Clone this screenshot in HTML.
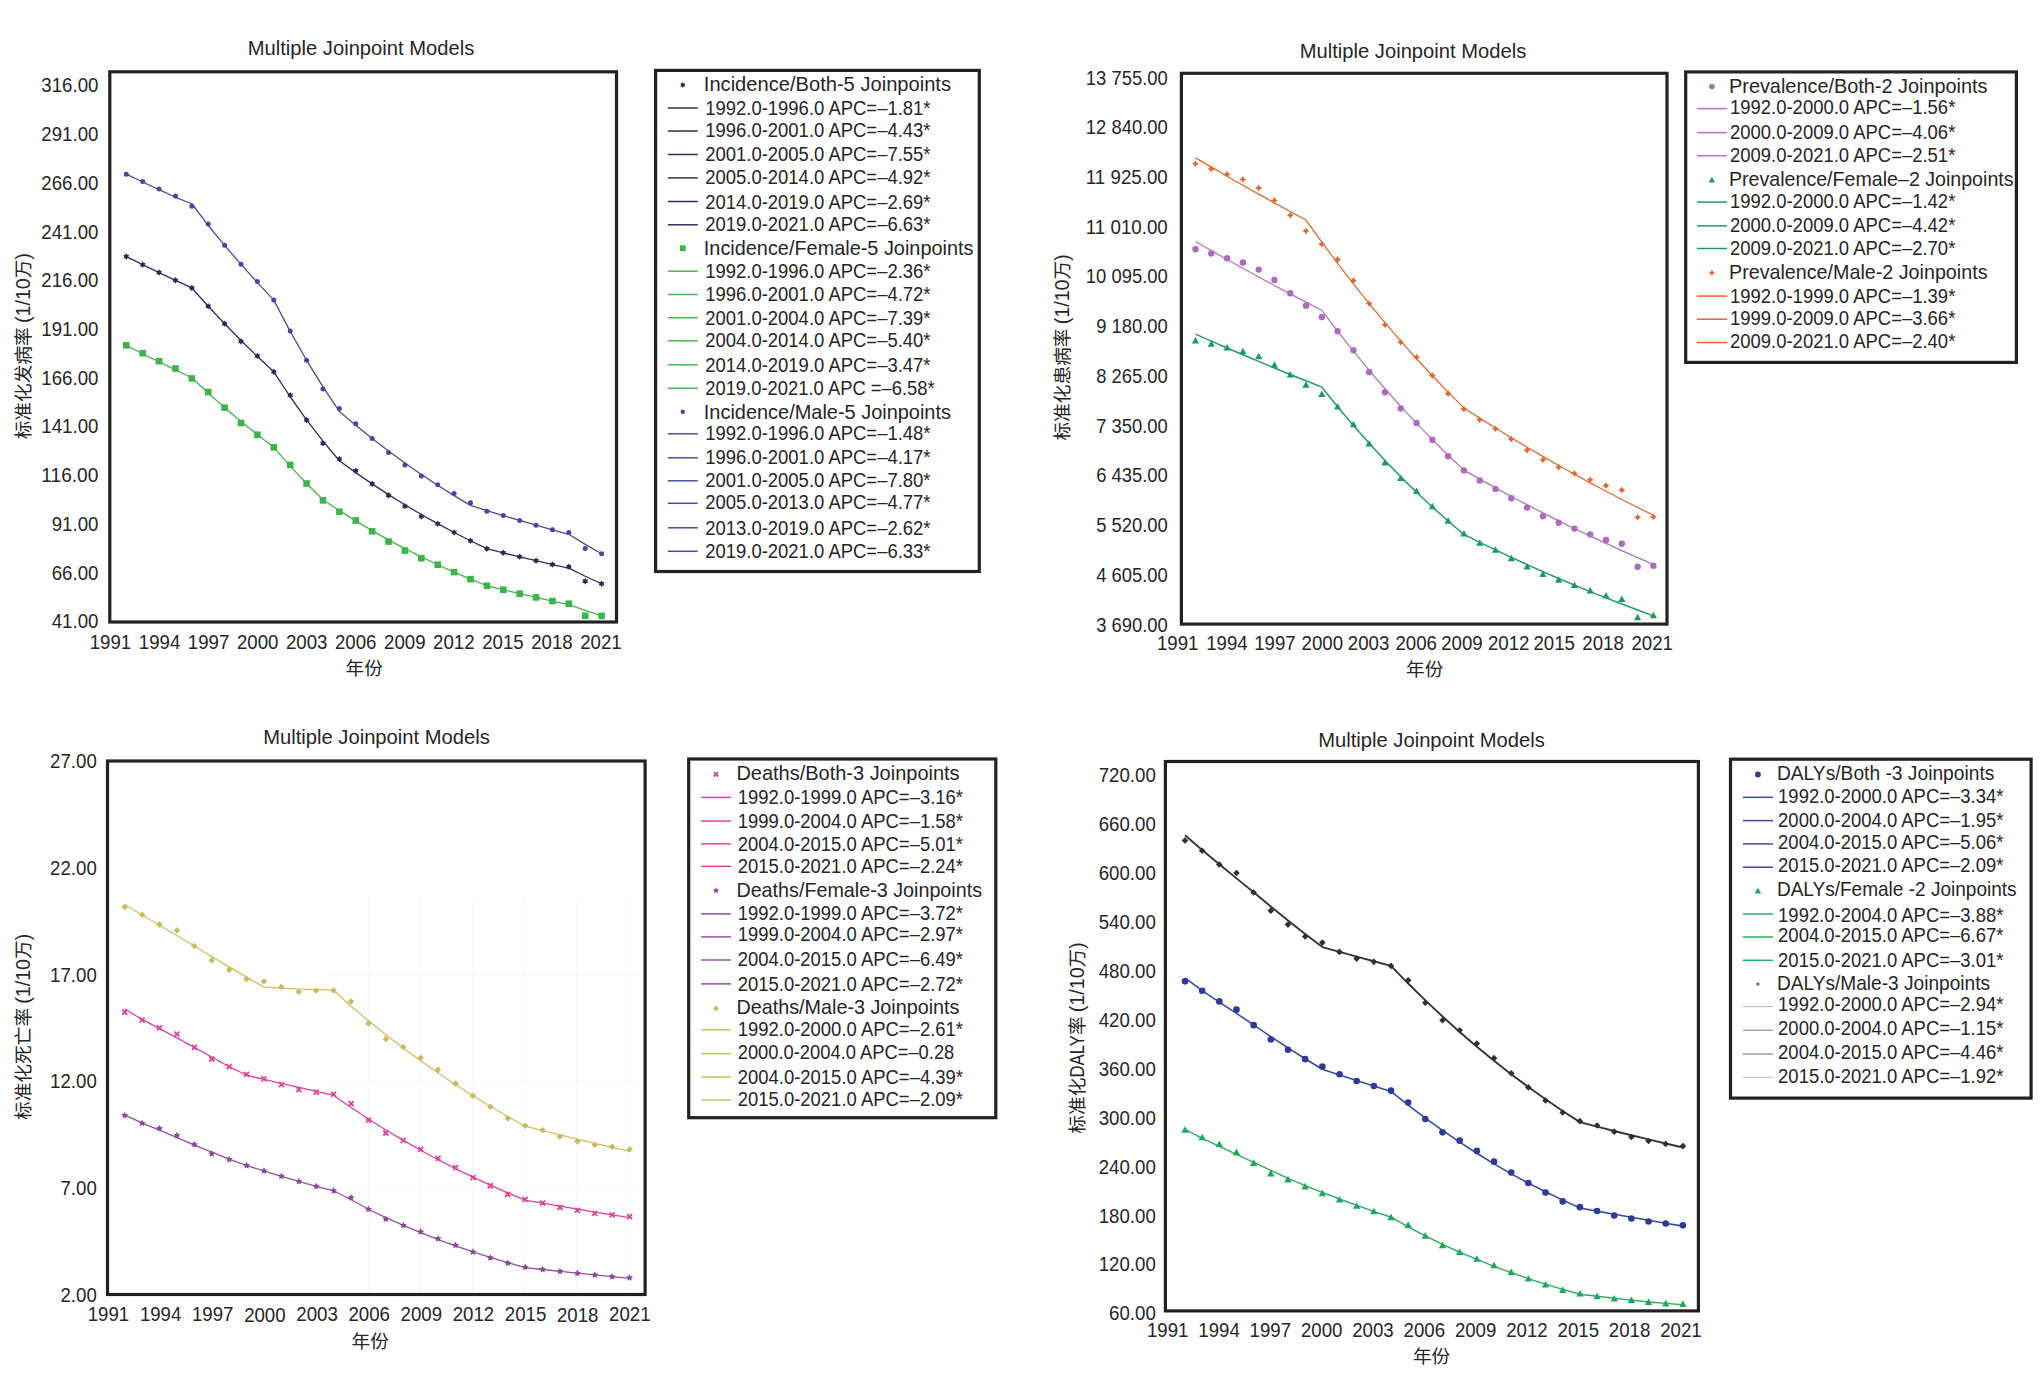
<!DOCTYPE html>
<html lang="zh">
<head>
<meta charset="utf-8">
<title>Multiple Joinpoint Models</title>
<style>
html,body{margin:0;padding:0;background:#fff;}
body{width:2044px;height:1387px;overflow:hidden;}
svg{display:block;}
text{white-space:pre;}
</style>
</head>
<body>
<svg width="2044" height="1387" viewBox="0 0 2044 1387" font-family='"Liberation Sans", "Noto Sans CJK SC", sans-serif' font-size="20.3" fill="#262626">
<rect width="2044" height="1387" fill="#ffffff"/>
<g id="chart1">
<polyline points="126.29,174.2 142.68,182.01 159.07,189.7 175.46,197.28 191.85,203.75 208.24,225.47 224.63,245.33 241.02,264.36 257.41,282.6 273.8,300.08 290.19,331.41 306.58,360.29 322.97,386.93 339.36,411.48 355.75,425.33 372.14,438.51 388.53,451.07 404.92,463.02 421.31,474.41 437.7,485.25 454.09,495.58 470.48,505.41 486.87,510.56 503.26,515.56 519.65,520.44 536.04,525.19 552.43,529.82 568.82,534.32 585.21,544.42 601.6,553.74" fill="none" stroke="#4a4d9e" stroke-width="1.3" stroke-linejoin="round"/>
<circle cx="126.29" cy="174.2" r="2.5" fill="#4447a2"/><circle cx="142.68" cy="181.61" r="2.5" fill="#4447a2"/><circle cx="159.07" cy="188.9" r="2.5" fill="#4447a2"/><circle cx="175.46" cy="196.08" r="2.5" fill="#4447a2"/><circle cx="191.85" cy="206.15" r="2.5" fill="#4447a2"/><circle cx="208.24" cy="223.97" r="2.5" fill="#4447a2"/><circle cx="224.63" cy="245.33" r="2.5" fill="#4447a2"/><circle cx="241.02" cy="264.36" r="2.5" fill="#4447a2"/><circle cx="257.41" cy="281.4" r="2.5" fill="#4447a2"/><circle cx="273.8" cy="300.08" r="2.5" fill="#4447a2"/><circle cx="290.19" cy="331.01" r="2.5" fill="#4447a2"/><circle cx="306.58" cy="360.29" r="2.5" fill="#4447a2"/><circle cx="322.97" cy="388.93" r="2.5" fill="#4447a2"/><circle cx="339.36" cy="408.48" r="2.5" fill="#4447a2"/><circle cx="355.75" cy="423.63" r="2.5" fill="#4447a2"/><circle cx="372.14" cy="438.51" r="2.5" fill="#4447a2"/><circle cx="388.53" cy="452.47" r="2.5" fill="#4447a2"/><circle cx="404.92" cy="465.02" r="2.5" fill="#4447a2"/><circle cx="421.31" cy="476.11" r="2.5" fill="#4447a2"/><circle cx="437.7" cy="484.75" r="2.5" fill="#4447a2"/><circle cx="454.09" cy="493.58" r="2.5" fill="#4447a2"/><circle cx="470.48" cy="502.81" r="2.5" fill="#4447a2"/><circle cx="486.87" cy="511.26" r="2.5" fill="#4447a2"/><circle cx="503.26" cy="515.56" r="2.5" fill="#4447a2"/><circle cx="519.65" cy="520.44" r="2.5" fill="#4447a2"/><circle cx="536.04" cy="525.19" r="2.5" fill="#4447a2"/><circle cx="552.43" cy="529.82" r="2.5" fill="#4447a2"/><circle cx="568.82" cy="532.62" r="2.5" fill="#4447a2"/><circle cx="585.21" cy="548.62" r="2.5" fill="#4447a2"/><circle cx="601.6" cy="553.74" r="2.5" fill="#4447a2"/>
<polyline points="126.29,256.6 142.68,264.65 159.07,272.57 175.46,280.33 191.85,287.96 208.24,306.29 224.63,323.81 241.02,340.55 257.41,356.55 273.8,371.84 290.19,396.75 306.58,419.78 322.97,441.06 339.36,460.74 355.75,472.6 372.14,483.87 388.53,494.59 404.92,504.78 421.31,514.47 437.7,523.69 454.09,532.45 470.48,540.78 486.87,548.69 503.26,552.81 519.65,556.82 536.04,560.72 552.43,564.51 568.82,568.2 585.21,576.25 601.6,583.72" fill="none" stroke="#2f2f5f" stroke-width="1.3" stroke-linejoin="round"/>
<path d="M126.29 253.3L127.31 254.83L129.15 254.95L128.34 256.6L129.15 258.25L127.31 258.37L126.29 259.9L125.27 258.37L123.43 258.25L124.24 256.6L123.43 254.95L125.27 254.83Z" fill="#2b2b5a"/><path d="M142.68 261.35L143.7 262.88L145.54 263L144.73 264.65L145.54 266.3L143.7 266.43L142.68 267.95L141.66 266.43L139.82 266.3L140.63 264.65L139.82 263L141.66 262.88Z" fill="#2b2b5a"/><path d="M159.07 269.27L160.09 270.79L161.93 270.92L161.12 272.57L161.93 274.22L160.09 274.34L159.07 275.87L158.05 274.34L156.21 274.22L157.02 272.57L156.21 270.92L158.05 270.79Z" fill="#2b2b5a"/><path d="M175.46 277.03L176.48 278.56L178.32 278.68L177.51 280.33L178.32 281.98L176.48 282.11L175.46 283.63L174.44 282.11L172.6 281.98L173.41 280.33L172.6 278.68L174.44 278.56Z" fill="#2b2b5a"/><path d="M191.85 284.66L192.87 286.19L194.71 286.31L193.9 287.96L194.71 289.61L192.87 289.73L191.85 291.26L190.83 289.73L188.99 289.61L189.8 287.96L188.99 286.31L190.83 286.19Z" fill="#2b2b5a"/><path d="M208.24 302.99L209.26 304.52L211.1 304.64L210.29 306.29L211.1 307.94L209.26 308.06L208.24 309.59L207.22 308.06L205.38 307.94L206.19 306.29L205.38 304.64L207.22 304.52Z" fill="#2b2b5a"/><path d="M224.63 320.51L225.65 322.04L227.49 322.16L226.68 323.81L227.49 325.46L225.65 325.58L224.63 327.11L223.61 325.58L221.77 325.46L222.58 323.81L221.77 322.16L223.61 322.04Z" fill="#2b2b5a"/><path d="M241.02 338.15L242.04 339.68L243.88 339.8L243.07 341.45L243.88 343.1L242.04 343.22L241.02 344.75L240 343.22L238.16 343.1L238.97 341.45L238.16 339.8L240 339.68Z" fill="#2b2b5a"/><path d="M257.41 352.75L258.43 354.28L260.27 354.4L259.46 356.05L260.27 357.7L258.43 357.82L257.41 359.35L256.39 357.82L254.55 357.7L255.36 356.05L254.55 354.4L256.39 354.28Z" fill="#2b2b5a"/><path d="M273.8 368.54L274.82 370.07L276.66 370.19L275.85 371.84L276.66 373.49L274.82 373.61L273.8 375.14L272.78 373.61L270.94 373.49L271.75 371.84L270.94 370.19L272.78 370.07Z" fill="#2b2b5a"/><path d="M290.19 391.95L291.21 393.48L293.05 393.6L292.24 395.25L293.05 396.9L291.21 397.02L290.19 398.55L289.17 397.02L287.33 396.9L288.14 395.25L287.33 393.6L289.17 393.48Z" fill="#2b2b5a"/><path d="M306.58 416.78L307.6 418.3L309.44 418.43L308.63 420.08L309.44 421.73L307.6 421.85L306.58 423.38L305.56 421.85L303.72 421.73L304.53 420.08L303.72 418.43L305.56 418.3Z" fill="#2b2b5a"/><path d="M322.97 439.96L323.99 441.49L325.83 441.61L325.02 443.26L325.83 444.91L323.99 445.04L322.97 446.56L321.95 445.04L320.11 444.91L320.92 443.26L320.11 441.61L321.95 441.49Z" fill="#2b2b5a"/><path d="M339.36 455.74L340.38 457.27L342.22 457.39L341.41 459.04L342.22 460.69L340.38 460.82L339.36 462.34L338.34 460.82L336.5 460.69L337.31 459.04L336.5 457.39L338.34 457.27Z" fill="#2b2b5a"/><path d="M355.75 467.4L356.77 468.93L358.61 469.05L357.8 470.7L358.61 472.35L356.77 472.47L355.75 474L354.73 472.47L352.89 472.35L353.7 470.7L352.89 469.05L354.73 468.93Z" fill="#2b2b5a"/><path d="M372.14 480.57L373.16 482.1L375 482.22L374.19 483.87L375 485.52L373.16 485.65L372.14 487.17L371.12 485.65L369.28 485.52L370.09 483.87L369.28 482.22L371.12 482.1Z" fill="#2b2b5a"/><path d="M388.53 492.09L389.55 493.62L391.39 493.74L390.58 495.39L391.39 497.04L389.55 497.16L388.53 498.69L387.51 497.16L385.67 497.04L386.48 495.39L385.67 493.74L387.51 493.62Z" fill="#2b2b5a"/><path d="M404.92 502.98L405.94 504.51L407.78 504.63L406.97 506.28L407.78 507.93L405.94 508.06L404.92 509.58L403.9 508.06L402.06 507.93L402.87 506.28L402.06 504.63L403.9 504.51Z" fill="#2b2b5a"/><path d="M421.31 513.17L422.33 514.7L424.17 514.82L423.36 516.47L424.17 518.12L422.33 518.25L421.31 519.77L420.29 518.25L418.45 518.12L419.26 516.47L418.45 514.82L420.29 514.7Z" fill="#2b2b5a"/><path d="M437.7 520.39L438.72 521.91L440.56 522.04L439.75 523.69L440.56 525.34L438.72 525.46L437.7 526.99L436.68 525.46L434.84 525.34L435.65 523.69L434.84 522.04L436.68 521.91Z" fill="#2b2b5a"/><path d="M454.09 529.15L455.11 530.67L456.95 530.8L456.14 532.45L456.95 534.1L455.11 534.22L454.09 535.75L453.07 534.22L451.23 534.1L452.04 532.45L451.23 530.8L453.07 530.67Z" fill="#2b2b5a"/><path d="M470.48 537.48L471.5 539L473.34 539.13L472.53 540.78L473.34 542.43L471.5 542.55L470.48 544.08L469.46 542.55L467.62 542.43L468.43 540.78L467.62 539.13L469.46 539Z" fill="#2b2b5a"/><path d="M486.87 545.39L487.89 546.92L489.73 547.04L488.92 548.69L489.73 550.34L487.89 550.47L486.87 551.99L485.85 550.47L484.01 550.34L484.82 548.69L484.01 547.04L485.85 546.92Z" fill="#2b2b5a"/><path d="M503.26 549.51L504.28 551.04L506.12 551.16L505.31 552.81L506.12 554.46L504.28 554.58L503.26 556.11L502.24 554.58L500.4 554.46L501.21 552.81L500.4 551.16L502.24 551.04Z" fill="#2b2b5a"/><path d="M519.65 553.52L520.67 555.05L522.51 555.17L521.7 556.82L522.51 558.47L520.67 558.59L519.65 560.12L518.63 558.59L516.79 558.47L517.6 556.82L516.79 555.17L518.63 555.05Z" fill="#2b2b5a"/><path d="M536.04 557.42L537.06 558.94L538.9 559.07L538.09 560.72L538.9 562.37L537.06 562.49L536.04 564.02L535.02 562.49L533.18 562.37L533.99 560.72L533.18 559.07L535.02 558.94Z" fill="#2b2b5a"/><path d="M552.43 561.21L553.45 562.74L555.29 562.86L554.48 564.51L555.29 566.16L553.45 566.28L552.43 567.81L551.41 566.28L549.57 566.16L550.38 564.51L549.57 562.86L551.41 562.74Z" fill="#2b2b5a"/><path d="M568.82 563.5L569.84 565.03L571.68 565.15L570.87 566.8L571.68 568.45L569.84 568.57L568.82 570.1L567.8 568.57L565.96 568.45L566.77 566.8L565.96 565.15L567.8 565.03Z" fill="#2b2b5a"/><path d="M585.21 577.95L586.23 579.48L588.07 579.6L587.26 581.25L588.07 582.9L586.23 583.03L585.21 584.55L584.19 583.03L582.35 582.9L583.16 581.25L582.35 579.6L584.19 579.48Z" fill="#2b2b5a"/><path d="M601.6 580.42L602.62 581.95L604.46 582.07L603.65 583.72L604.46 585.37L602.62 585.49L601.6 587.02L600.58 585.49L598.74 585.37L599.55 583.72L598.74 582.07L600.58 581.95Z" fill="#2b2b5a"/>
<polyline points="126.29,345.3 142.68,353.71 159.07,361.92 175.46,369.94 191.85,377.77 208.24,393.06 224.63,407.63 241.02,421.51 257.41,434.74 273.8,447.34 290.19,466.14 306.58,483.55 322.97,499.67 339.36,510.59 355.75,520.91 372.14,530.67 388.53,539.91 404.92,548.65 421.31,556.91 437.7,564.73 454.09,572.13 470.48,579.13 486.87,585.75 503.26,589.78 519.65,593.66 536.04,597.41 552.43,601.03 568.82,604.53 585.21,610.42 601.6,615.9" fill="none" stroke="#43b64e" stroke-width="1.3" stroke-linejoin="round"/>
<rect x="122.99" y="342" width="6.6" height="6.6" fill="#3cb449"/><rect x="139.38" y="349.91" width="6.6" height="6.6" fill="#3cb449"/><rect x="155.77" y="357.92" width="6.6" height="6.6" fill="#3cb449"/><rect x="172.16" y="365.24" width="6.6" height="6.6" fill="#3cb449"/><rect x="188.55" y="375.17" width="6.6" height="6.6" fill="#3cb449"/><rect x="204.94" y="388.76" width="6.6" height="6.6" fill="#3cb449"/><rect x="221.33" y="404.33" width="6.6" height="6.6" fill="#3cb449"/><rect x="237.72" y="419.71" width="6.6" height="6.6" fill="#3cb449"/><rect x="254.11" y="431.44" width="6.6" height="6.6" fill="#3cb449"/><rect x="270.5" y="444.04" width="6.6" height="6.6" fill="#3cb449"/><rect x="286.89" y="461.64" width="6.6" height="6.6" fill="#3cb449"/><rect x="303.28" y="480.25" width="6.6" height="6.6" fill="#3cb449"/><rect x="319.67" y="497.07" width="6.6" height="6.6" fill="#3cb449"/><rect x="336.06" y="508.39" width="6.6" height="6.6" fill="#3cb449"/><rect x="352.45" y="517.21" width="6.6" height="6.6" fill="#3cb449"/><rect x="368.84" y="528.07" width="6.6" height="6.6" fill="#3cb449"/><rect x="385.23" y="538.31" width="6.6" height="6.6" fill="#3cb449"/><rect x="401.62" y="547.25" width="6.6" height="6.6" fill="#3cb449"/><rect x="418.01" y="554.91" width="6.6" height="6.6" fill="#3cb449"/><rect x="434.4" y="561.43" width="6.6" height="6.6" fill="#3cb449"/><rect x="450.79" y="568.83" width="6.6" height="6.6" fill="#3cb449"/><rect x="467.18" y="575.83" width="6.6" height="6.6" fill="#3cb449"/><rect x="483.57" y="582.45" width="6.6" height="6.6" fill="#3cb449"/><rect x="499.96" y="586.48" width="6.6" height="6.6" fill="#3cb449"/><rect x="516.35" y="590.36" width="6.6" height="6.6" fill="#3cb449"/><rect x="532.74" y="594.11" width="6.6" height="6.6" fill="#3cb449"/><rect x="549.13" y="597.73" width="6.6" height="6.6" fill="#3cb449"/><rect x="565.52" y="600.43" width="6.6" height="6.6" fill="#3cb449"/><rect x="581.91" y="612.52" width="6.6" height="6.6" fill="#3cb449"/><rect x="598.3" y="612.6" width="6.6" height="6.6" fill="#3cb449"/>
<rect x="109.8" y="71.8" width="506.7" height="550.2" fill="none" stroke="#222222" stroke-width="3.2"/>
<text x="41.34" y="92.3" textLength="57.06" lengthAdjust="spacingAndGlyphs">316.00</text>
<text x="41.34" y="141.04" textLength="57.06" lengthAdjust="spacingAndGlyphs">291.00</text>
<text x="41.34" y="189.77" textLength="57.06" lengthAdjust="spacingAndGlyphs">266.00</text>
<text x="41.34" y="238.51" textLength="57.06" lengthAdjust="spacingAndGlyphs">241.00</text>
<text x="41.34" y="287.25" textLength="57.06" lengthAdjust="spacingAndGlyphs">216.00</text>
<text x="41.34" y="335.98" textLength="57.06" lengthAdjust="spacingAndGlyphs">191.00</text>
<text x="41.34" y="384.72" textLength="57.06" lengthAdjust="spacingAndGlyphs">166.00</text>
<text x="41.34" y="433.45" textLength="57.06" lengthAdjust="spacingAndGlyphs">141.00</text>
<text x="41.34" y="482.19" textLength="57.06" lengthAdjust="spacingAndGlyphs">116.00</text>
<text x="51.71" y="530.93" textLength="46.69" lengthAdjust="spacingAndGlyphs">91.00</text>
<text x="51.71" y="579.66" textLength="46.69" lengthAdjust="spacingAndGlyphs">66.00</text>
<text x="51.71" y="628.4" textLength="46.69" lengthAdjust="spacingAndGlyphs">41.00</text>
<text x="89.75" y="648.7" textLength="41.5" lengthAdjust="spacingAndGlyphs">1991</text>
<text x="138.8" y="648.7" textLength="41.5" lengthAdjust="spacingAndGlyphs">1994</text>
<text x="187.85" y="648.7" textLength="41.5" lengthAdjust="spacingAndGlyphs">1997</text>
<text x="236.9" y="648.7" textLength="41.5" lengthAdjust="spacingAndGlyphs">2000</text>
<text x="285.95" y="648.7" textLength="41.5" lengthAdjust="spacingAndGlyphs">2003</text>
<text x="335" y="648.7" textLength="41.5" lengthAdjust="spacingAndGlyphs">2006</text>
<text x="384.05" y="648.7" textLength="41.5" lengthAdjust="spacingAndGlyphs">2009</text>
<text x="433.1" y="648.7" textLength="41.5" lengthAdjust="spacingAndGlyphs">2012</text>
<text x="482.15" y="648.7" textLength="41.5" lengthAdjust="spacingAndGlyphs">2015</text>
<text x="531.2" y="648.7" textLength="41.5" lengthAdjust="spacingAndGlyphs">2018</text>
<text x="580.25" y="648.7" textLength="41.5" lengthAdjust="spacingAndGlyphs">2021</text>
<text x="247.76" y="55.3" textLength="226.48" lengthAdjust="spacingAndGlyphs">Multiple Joinpoint Models</text>
<text x="345.61" y="675.4" font-size="18.7">年份</text>
<text y="352.9" transform="rotate(-90 23.2 346.3)"><tspan x="-69.85" font-size="18.7">标准化发病率 </tspan><tspan x="46.47" textLength="44.77" lengthAdjust="spacingAndGlyphs">(1/10</tspan><tspan x="91.23" font-size="18.7">万</tspan><tspan x="109.92" textLength="6.33" lengthAdjust="spacingAndGlyphs">)</tspan></text>
<rect x="655.6" y="70.4" width="323.7" height="501.1" fill="#ffffff" stroke="#222222" stroke-width="3.2"/>
<path d="M682.8 82.1L683.7 83.44L685.31 83.55L684.6 85L685.31 86.45L683.7 86.56L682.8 87.9L681.9 86.56L680.29 86.45L681 85L680.29 83.55L681.9 83.44Z" fill="#2b2b5a"/>
<text x="703.8" y="91" textLength="247.22" lengthAdjust="spacingAndGlyphs">Incidence/Both-5 Joinpoints</text>
<line x1="667.8" y1="108" x2="697.8" y2="108" stroke="#2f2f5f" stroke-width="1.5"/>
<text x="705.2" y="114.7" textLength="225.33" lengthAdjust="spacingAndGlyphs">1992.0-1996.0 APC=–1.81*</text>
<line x1="667.8" y1="131" x2="697.8" y2="131" stroke="#2f2f5f" stroke-width="1.5"/>
<text x="705.2" y="136.7" textLength="225.33" lengthAdjust="spacingAndGlyphs">1996.0-2001.0 APC=–4.43*</text>
<line x1="667.8" y1="154.5" x2="697.8" y2="154.5" stroke="#2f2f5f" stroke-width="1.5"/>
<text x="705.2" y="160.7" textLength="225.33" lengthAdjust="spacingAndGlyphs">2001.0-2005.0 APC=–7.55*</text>
<line x1="667.8" y1="177.9" x2="697.8" y2="177.9" stroke="#2f2f5f" stroke-width="1.5"/>
<text x="705.2" y="183.8" textLength="225.33" lengthAdjust="spacingAndGlyphs">2005.0-2014.0 APC=–4.92*</text>
<line x1="667.8" y1="201.5" x2="697.8" y2="201.5" stroke="#2f2f5f" stroke-width="1.5"/>
<text x="705.2" y="208.8" textLength="225.33" lengthAdjust="spacingAndGlyphs">2014.0-2019.0 APC=–2.69*</text>
<line x1="667.8" y1="224.8" x2="697.8" y2="224.8" stroke="#2f2f5f" stroke-width="1.5"/>
<text x="705.2" y="231" textLength="225.33" lengthAdjust="spacingAndGlyphs">2019.0-2021.0 APC=–6.63*</text>
<rect x="679.9" y="245.3" width="5.81" height="5.81" fill="#3cb449"/>
<text x="703.8" y="254.7" textLength="269.67" lengthAdjust="spacingAndGlyphs">Incidence/Female-5 Joinpoints</text>
<line x1="667.8" y1="271.2" x2="697.8" y2="271.2" stroke="#43b64e" stroke-width="1.5"/>
<text x="705.2" y="277.8" textLength="225.33" lengthAdjust="spacingAndGlyphs">1992.0-1996.0 APC=–2.36*</text>
<line x1="667.8" y1="294.5" x2="697.8" y2="294.5" stroke="#43b64e" stroke-width="1.5"/>
<text x="705.2" y="300.7" textLength="225.33" lengthAdjust="spacingAndGlyphs">1996.0-2001.0 APC=–4.72*</text>
<line x1="667.8" y1="317.7" x2="697.8" y2="317.7" stroke="#43b64e" stroke-width="1.5"/>
<text x="705.2" y="324.6" textLength="225.33" lengthAdjust="spacingAndGlyphs">2001.0-2004.0 APC=–7.39*</text>
<line x1="667.8" y1="340.8" x2="697.8" y2="340.8" stroke="#43b64e" stroke-width="1.5"/>
<text x="705.2" y="346.7" textLength="225.33" lengthAdjust="spacingAndGlyphs">2004.0-2014.0 APC=–5.40*</text>
<line x1="667.8" y1="364.8" x2="697.8" y2="364.8" stroke="#43b64e" stroke-width="1.5"/>
<text x="705.2" y="371.9" textLength="225.33" lengthAdjust="spacingAndGlyphs">2014.0-2019.0 APC=–3.47*</text>
<line x1="667.8" y1="388.3" x2="697.8" y2="388.3" stroke="#43b64e" stroke-width="1.5"/>
<text x="705.2" y="394.8" textLength="229.52" lengthAdjust="spacingAndGlyphs">2019.0-2021.0 APC =–6.58*</text>
<circle cx="682.8" cy="411.8" r="2.2" fill="#4447a2"/>
<text x="703.8" y="418.7" textLength="247.16" lengthAdjust="spacingAndGlyphs">Incidence/Male-5 Joinpoints</text>
<line x1="667.8" y1="433.8" x2="697.8" y2="433.8" stroke="#4a4d9e" stroke-width="1.5"/>
<text x="705.2" y="440" textLength="225.33" lengthAdjust="spacingAndGlyphs">1992.0-1996.0 APC=–1.48*</text>
<line x1="667.8" y1="457.8" x2="697.8" y2="457.8" stroke="#4a4d9e" stroke-width="1.5"/>
<text x="705.2" y="464.2" textLength="225.33" lengthAdjust="spacingAndGlyphs">1996.0-2001.0 APC=–4.17*</text>
<line x1="667.8" y1="480.8" x2="697.8" y2="480.8" stroke="#4a4d9e" stroke-width="1.5"/>
<text x="705.2" y="487.3" textLength="225.33" lengthAdjust="spacingAndGlyphs">2001.0-2005.0 APC=–7.80*</text>
<line x1="667.8" y1="503.3" x2="697.8" y2="503.3" stroke="#4a4d9e" stroke-width="1.5"/>
<text x="705.2" y="509.4" textLength="225.33" lengthAdjust="spacingAndGlyphs">2005.0-2013.0 APC=–4.77*</text>
<line x1="667.8" y1="527.8" x2="697.8" y2="527.8" stroke="#4a4d9e" stroke-width="1.5"/>
<text x="705.2" y="534.7" textLength="225.33" lengthAdjust="spacingAndGlyphs">2013.0-2019.0 APC=–2.62*</text>
<line x1="667.8" y1="551.3" x2="697.8" y2="551.3" stroke="#4a4d9e" stroke-width="1.5"/>
<text x="705.2" y="557.8" textLength="225.33" lengthAdjust="spacingAndGlyphs">2019.0-2021.0 APC=–6.33*</text>
</g>
<g id="chart2">
<polyline points="1195.49,157.89 1211.28,167.15 1227.07,176.28 1242.86,185.28 1258.65,194.15 1274.44,202.9 1290.23,211.53 1306.02,220.04 1321.81,242.14 1337.6,263.42 1353.39,283.93 1369.18,303.69 1384.97,322.72 1400.76,341.06 1416.55,358.72 1432.34,375.74 1448.13,392.14 1463.92,407.93 1479.71,418.1 1495.5,428.02 1511.29,437.71 1527.08,447.17 1542.87,456.41 1558.66,465.43 1574.45,474.24 1590.24,482.84 1606.03,491.24 1621.82,499.44 1637.61,507.45 1653.4,515.28" fill="none" stroke="#e4662b" stroke-width="1.25" stroke-linejoin="round"/>
<path d="M1195.49 160.2L1196.78 162.41L1198.99 163.7L1196.78 164.99L1195.49 167.2L1194.2 164.99L1191.99 163.7L1194.2 162.41Z" fill="#e4662b"/><path d="M1211.28 165.4L1212.57 167.61L1214.78 168.9L1212.57 170.19L1211.28 172.4L1209.99 170.19L1207.78 168.9L1209.99 167.61Z" fill="#e4662b"/><path d="M1227.07 170.8L1228.36 173.01L1230.57 174.3L1228.36 175.59L1227.07 177.8L1225.78 175.59L1223.57 174.3L1225.78 173.01Z" fill="#e4662b"/><path d="M1242.86 176L1244.15 178.21L1246.36 179.5L1244.15 180.79L1242.86 183L1241.57 180.79L1239.36 179.5L1241.57 178.21Z" fill="#e4662b"/><path d="M1258.65 184.4L1259.94 186.61L1262.15 187.9L1259.94 189.19L1258.65 191.4L1257.36 189.19L1255.15 187.9L1257.36 186.61Z" fill="#e4662b"/><path d="M1274.44 197L1275.73 199.21L1277.94 200.5L1275.73 201.79L1274.44 204L1273.15 201.79L1270.94 200.5L1273.15 199.21Z" fill="#e4662b"/><path d="M1290.23 211.8L1291.52 214.01L1293.73 215.3L1291.52 216.59L1290.23 218.8L1288.94 216.59L1286.73 215.3L1288.94 214.01Z" fill="#e4662b"/><path d="M1306.02 227.4L1307.31 229.61L1309.52 230.9L1307.31 232.19L1306.02 234.4L1304.73 232.19L1302.52 230.9L1304.73 229.61Z" fill="#e4662b"/><path d="M1321.81 240.6L1323.1 242.81L1325.31 244.1L1323.1 245.39L1321.81 247.6L1320.52 245.39L1318.31 244.1L1320.52 242.81Z" fill="#e4662b"/><path d="M1337.6 256.1L1338.89 258.31L1341.1 259.6L1338.89 260.89L1337.6 263.1L1336.31 260.89L1334.1 259.6L1336.31 258.31Z" fill="#e4662b"/><path d="M1353.39 277.1L1354.68 279.31L1356.89 280.6L1354.68 281.89L1353.39 284.1L1352.1 281.89L1349.89 280.6L1352.1 279.31Z" fill="#e4662b"/><path d="M1369.18 300L1370.47 302.21L1372.68 303.5L1370.47 304.79L1369.18 307L1367.89 304.79L1365.68 303.5L1367.89 302.21Z" fill="#e4662b"/><path d="M1384.97 321.3L1386.26 323.51L1388.47 324.8L1386.26 326.09L1384.97 328.3L1383.68 326.09L1381.47 324.8L1383.68 323.51Z" fill="#e4662b"/><path d="M1400.76 338.7L1402.05 340.91L1404.26 342.2L1402.05 343.49L1400.76 345.7L1399.47 343.49L1397.26 342.2L1399.47 340.91Z" fill="#e4662b"/><path d="M1416.55 353.7L1417.84 355.91L1420.05 357.2L1417.84 358.49L1416.55 360.7L1415.26 358.49L1413.05 357.2L1415.26 355.91Z" fill="#e4662b"/><path d="M1432.34 372L1433.63 374.21L1435.84 375.5L1433.63 376.79L1432.34 379L1431.05 376.79L1428.84 375.5L1431.05 374.21Z" fill="#e4662b"/><path d="M1448.13 390.1L1449.42 392.31L1451.63 393.6L1449.42 394.89L1448.13 397.1L1446.84 394.89L1444.63 393.6L1446.84 392.31Z" fill="#e4662b"/><path d="M1463.92 405.6L1465.21 407.81L1467.42 409.1L1465.21 410.39L1463.92 412.6L1462.63 410.39L1460.42 409.1L1462.63 407.81Z" fill="#e4662b"/><path d="M1479.71 416.3L1481 418.51L1483.21 419.8L1481 421.09L1479.71 423.3L1478.42 421.09L1476.21 419.8L1478.42 418.51Z" fill="#e4662b"/><path d="M1495.5 425.3L1496.79 427.51L1499 428.8L1496.79 430.09L1495.5 432.3L1494.21 430.09L1492 428.8L1494.21 427.51Z" fill="#e4662b"/><path d="M1511.29 435.6L1512.58 437.81L1514.79 439.1L1512.58 440.39L1511.29 442.6L1510 440.39L1507.79 439.1L1510 437.81Z" fill="#e4662b"/><path d="M1527.08 446.6L1528.37 448.81L1530.58 450.1L1528.37 451.39L1527.08 453.6L1525.79 451.39L1523.58 450.1L1525.79 448.81Z" fill="#e4662b"/><path d="M1542.87 456.3L1544.16 458.51L1546.37 459.8L1544.16 461.09L1542.87 463.3L1541.58 461.09L1539.37 459.8L1541.58 458.51Z" fill="#e4662b"/><path d="M1558.66 463.7L1559.95 465.91L1562.16 467.2L1559.95 468.49L1558.66 470.7L1557.37 468.49L1555.16 467.2L1557.37 465.91Z" fill="#e4662b"/><path d="M1574.45 469.9L1575.74 472.11L1577.95 473.4L1575.74 474.69L1574.45 476.9L1573.16 474.69L1570.95 473.4L1573.16 472.11Z" fill="#e4662b"/><path d="M1590.24 476.3L1591.53 478.51L1593.74 479.8L1591.53 481.09L1590.24 483.3L1588.95 481.09L1586.74 479.8L1588.95 478.51Z" fill="#e4662b"/><path d="M1606.03 482.1L1607.32 484.31L1609.53 485.6L1607.32 486.89L1606.03 489.1L1604.74 486.89L1602.53 485.6L1604.74 484.31Z" fill="#e4662b"/><path d="M1621.82 486.6L1623.11 488.81L1625.32 490.1L1623.11 491.39L1621.82 493.6L1620.53 491.39L1618.32 490.1L1620.53 488.81Z" fill="#e4662b"/><path d="M1637.61 513.8L1638.9 516.01L1641.11 517.3L1638.9 518.59L1637.61 520.8L1636.32 518.59L1634.11 517.3L1636.32 516.01Z" fill="#e4662b"/><path d="M1653.4 513.4L1654.69 515.61L1656.9 516.9L1654.69 518.19L1653.4 520.4L1652.11 518.19L1649.9 516.9L1652.11 515.61Z" fill="#e4662b"/>
<polyline points="1195.49,241.48 1211.28,250.57 1227.07,259.51 1242.86,268.31 1258.65,276.97 1274.44,285.5 1290.23,293.9 1306.02,302.16 1321.81,310.3 1337.6,331.15 1353.39,351.15 1369.18,370.33 1384.97,388.74 1400.76,406.4 1416.55,423.34 1432.34,439.6 1448.13,455.2 1463.92,470.16 1479.71,479.14 1495.5,487.9 1511.29,496.44 1527.08,504.78 1542.87,512.9 1558.66,520.83 1574.45,528.55 1590.24,536.09 1606.03,543.44 1621.82,550.61 1637.61,557.6 1653.4,564.42" fill="none" stroke="#b172c0" stroke-width="1.25" stroke-linejoin="round"/>
<circle cx="1195.49" cy="249.3" r="3.2" fill="#ad6bbd"/><circle cx="1211.28" cy="253.4" r="3.2" fill="#ad6bbd"/><circle cx="1227.07" cy="258.3" r="3.2" fill="#ad6bbd"/><circle cx="1242.86" cy="262.5" r="3.2" fill="#ad6bbd"/><circle cx="1258.65" cy="269.6" r="3.2" fill="#ad6bbd"/><circle cx="1274.44" cy="279.9" r="3.2" fill="#ad6bbd"/><circle cx="1290.23" cy="293.2" r="3.2" fill="#ad6bbd"/><circle cx="1306.02" cy="305.8" r="3.2" fill="#ad6bbd"/><circle cx="1321.81" cy="317.1" r="3.2" fill="#ad6bbd"/><circle cx="1337.6" cy="331.3" r="3.2" fill="#ad6bbd"/><circle cx="1353.39" cy="350.3" r="3.2" fill="#ad6bbd"/><circle cx="1369.18" cy="372" r="3.2" fill="#ad6bbd"/><circle cx="1384.97" cy="392.3" r="3.2" fill="#ad6bbd"/><circle cx="1400.76" cy="408.5" r="3.2" fill="#ad6bbd"/><circle cx="1416.55" cy="423" r="3.2" fill="#ad6bbd"/><circle cx="1432.34" cy="439.8" r="3.2" fill="#ad6bbd"/><circle cx="1448.13" cy="456.2" r="3.2" fill="#ad6bbd"/><circle cx="1463.92" cy="470.4" r="3.2" fill="#ad6bbd"/><circle cx="1479.71" cy="480.5" r="3.2" fill="#ad6bbd"/><circle cx="1495.5" cy="488.9" r="3.2" fill="#ad6bbd"/><circle cx="1511.29" cy="498.2" r="3.2" fill="#ad6bbd"/><circle cx="1527.08" cy="507.6" r="3.2" fill="#ad6bbd"/><circle cx="1542.87" cy="516.3" r="3.2" fill="#ad6bbd"/><circle cx="1558.66" cy="522.8" r="3.2" fill="#ad6bbd"/><circle cx="1574.45" cy="528.6" r="3.2" fill="#ad6bbd"/><circle cx="1590.24" cy="534.4" r="3.2" fill="#ad6bbd"/><circle cx="1606.03" cy="539.9" r="3.2" fill="#ad6bbd"/><circle cx="1621.82" cy="543.7" r="3.2" fill="#ad6bbd"/><circle cx="1637.61" cy="566.7" r="3.2" fill="#ad6bbd"/><circle cx="1653.4" cy="565.7" r="3.2" fill="#ad6bbd"/>
<polyline points="1195.49,334.18 1211.28,341.13 1227.07,347.98 1242.86,354.74 1258.65,361.4 1274.44,367.96 1290.23,374.44 1306.02,380.82 1321.81,387.1 1337.6,406.68 1353.39,425.41 1369.18,443.32 1384.97,460.45 1400.76,476.84 1416.55,492.23 1432.34,506.95 1448.13,521.01 1463.92,534.45 1479.71,542.3 1495.5,549.94 1511.29,557.37 1527.08,564.6 1542.87,571.63 1558.66,578.48 1574.45,585.14 1590.24,591.62 1606.03,597.92 1621.82,604.06 1637.61,610.02 1653.4,615.83" fill="none" stroke="#1f9e62" stroke-width="1.5" stroke-linejoin="round"/>
<path d="M1195.49 337L1199.09 343.48L1191.89 343.48Z" fill="#1a9c5e"/><path d="M1211.28 340.3L1214.88 346.78L1207.68 346.78Z" fill="#1a9c5e"/><path d="M1227.07 344.1L1230.67 350.58L1223.47 350.58Z" fill="#1a9c5e"/><path d="M1242.86 347.7L1246.46 354.18L1239.26 354.18Z" fill="#1a9c5e"/><path d="M1258.65 352.7L1262.25 359.18L1255.05 359.18Z" fill="#1a9c5e"/><path d="M1274.44 361.3L1278.04 367.78L1270.84 367.78Z" fill="#1a9c5e"/><path d="M1290.23 370.9L1293.83 377.38L1286.63 377.38Z" fill="#1a9c5e"/><path d="M1306.02 381.3L1309.62 387.78L1302.42 387.78Z" fill="#1a9c5e"/><path d="M1321.81 390.6L1325.41 397.08L1318.21 397.08Z" fill="#1a9c5e"/><path d="M1337.6 402.9L1341.2 409.38L1334 409.38Z" fill="#1a9c5e"/><path d="M1353.39 420.7L1356.99 427.18L1349.79 427.18Z" fill="#1a9c5e"/><path d="M1369.18 440L1372.78 446.48L1365.58 446.48Z" fill="#1a9c5e"/><path d="M1384.97 459.1L1388.57 465.58L1381.37 465.58Z" fill="#1a9c5e"/><path d="M1400.76 474.6L1404.36 481.08L1397.16 481.08Z" fill="#1a9c5e"/><path d="M1416.55 487.5L1420.15 493.98L1412.95 493.98Z" fill="#1a9c5e"/><path d="M1432.34 502.7L1435.94 509.18L1428.74 509.18Z" fill="#1a9c5e"/><path d="M1448.13 517.2L1451.73 523.68L1444.53 523.68Z" fill="#1a9c5e"/><path d="M1463.92 530.1L1467.52 536.58L1460.32 536.58Z" fill="#1a9c5e"/><path d="M1479.71 539.2L1483.31 545.68L1476.11 545.68Z" fill="#1a9c5e"/><path d="M1495.5 546.3L1499.1 552.78L1491.9 552.78Z" fill="#1a9c5e"/><path d="M1511.29 554.7L1514.89 561.18L1507.69 561.18Z" fill="#1a9c5e"/><path d="M1527.08 563.1L1530.68 569.58L1523.48 569.58Z" fill="#1a9c5e"/><path d="M1542.87 570.5L1546.47 576.98L1539.27 576.98Z" fill="#1a9c5e"/><path d="M1558.66 576.3L1562.26 582.78L1555.06 582.78Z" fill="#1a9c5e"/><path d="M1574.45 581.5L1578.05 587.98L1570.85 587.98Z" fill="#1a9c5e"/><path d="M1590.24 587L1593.84 593.48L1586.64 593.48Z" fill="#1a9c5e"/><path d="M1606.03 592.1L1609.63 598.58L1602.43 598.58Z" fill="#1a9c5e"/><path d="M1621.82 595.4L1625.42 601.88L1618.22 601.88Z" fill="#1a9c5e"/><path d="M1637.61 613.8L1641.21 620.28L1634.01 620.28Z" fill="#1a9c5e"/><path d="M1653.4 611.8L1657 618.28L1649.8 618.28Z" fill="#1a9c5e"/>
<rect x="1181.4" y="73.3" width="485.6" height="550.8" fill="none" stroke="#222222" stroke-width="3.2"/>
<text x="1085.82" y="84.5" textLength="81.98" lengthAdjust="spacingAndGlyphs">13 755.00</text>
<text x="1085.82" y="134.23" textLength="81.98" lengthAdjust="spacingAndGlyphs">12 840.00</text>
<text x="1085.82" y="183.95" textLength="81.98" lengthAdjust="spacingAndGlyphs">11 925.00</text>
<text x="1085.82" y="233.68" textLength="81.98" lengthAdjust="spacingAndGlyphs">11 010.00</text>
<text x="1085.82" y="283.41" textLength="81.98" lengthAdjust="spacingAndGlyphs">10 095.00</text>
<text x="1096.18" y="333.14" textLength="71.62" lengthAdjust="spacingAndGlyphs">9 180.00</text>
<text x="1096.18" y="382.86" textLength="71.62" lengthAdjust="spacingAndGlyphs">8 265.00</text>
<text x="1096.18" y="432.59" textLength="71.62" lengthAdjust="spacingAndGlyphs">7 350.00</text>
<text x="1096.18" y="482.32" textLength="71.62" lengthAdjust="spacingAndGlyphs">6 435.00</text>
<text x="1096.18" y="532.05" textLength="71.62" lengthAdjust="spacingAndGlyphs">5 520.00</text>
<text x="1096.18" y="581.77" textLength="71.62" lengthAdjust="spacingAndGlyphs">4 605.00</text>
<text x="1096.18" y="631.5" textLength="71.62" lengthAdjust="spacingAndGlyphs">3 690.00</text>
<text x="1156.95" y="649.7" textLength="41.5" lengthAdjust="spacingAndGlyphs">1991</text>
<text x="1206.25" y="649.7" textLength="41.5" lengthAdjust="spacingAndGlyphs">1994</text>
<text x="1254.25" y="649.7" textLength="41.5" lengthAdjust="spacingAndGlyphs">1997</text>
<text x="1301.55" y="649.7" textLength="41.5" lengthAdjust="spacingAndGlyphs">2000</text>
<text x="1347.85" y="649.7" textLength="41.5" lengthAdjust="spacingAndGlyphs">2003</text>
<text x="1395.45" y="649.7" textLength="41.5" lengthAdjust="spacingAndGlyphs">2006</text>
<text x="1441.26" y="649.7" textLength="41.5" lengthAdjust="spacingAndGlyphs">2009</text>
<text x="1487.96" y="649.7" textLength="41.5" lengthAdjust="spacingAndGlyphs">2012</text>
<text x="1533.46" y="649.7" textLength="41.5" lengthAdjust="spacingAndGlyphs">2015</text>
<text x="1582.36" y="649.7" textLength="41.5" lengthAdjust="spacingAndGlyphs">2018</text>
<text x="1631.46" y="649.7" textLength="41.5" lengthAdjust="spacingAndGlyphs">2021</text>
<text x="1299.76" y="58.1" textLength="226.48" lengthAdjust="spacingAndGlyphs">Multiple Joinpoint Models</text>
<text x="1406.01" y="676" font-size="18.7">年份</text>
<text y="354.1" transform="rotate(-90 1062 347.5)"><tspan x="968.95" font-size="18.7">标准化患病率 </tspan><tspan x="1085.27" textLength="44.77" lengthAdjust="spacingAndGlyphs">(1/10</tspan><tspan x="1130.03" font-size="18.7">万</tspan><tspan x="1148.72" textLength="6.33" lengthAdjust="spacingAndGlyphs">)</tspan></text>
<rect x="1685.7" y="71.9" width="330.7" height="290.5" fill="#ffffff" stroke="#222222" stroke-width="3.2"/>
<circle cx="1711.9" cy="86.5" r="2.82" fill="#ad6bbd"/>
<text x="1729" y="92.7" textLength="258.56" lengthAdjust="spacingAndGlyphs">Prevalence/Both-2 Joinpoints</text>
<line x1="1696.9" y1="108.6" x2="1727.1" y2="108.6" stroke="#b172c0" stroke-width="1.5"/>
<text x="1730" y="114" textLength="225.33" lengthAdjust="spacingAndGlyphs">1992.0-2000.0 APC=–1.56*</text>
<line x1="1696.9" y1="132.6" x2="1727.1" y2="132.6" stroke="#b172c0" stroke-width="1.5"/>
<text x="1730" y="138.5" textLength="225.33" lengthAdjust="spacingAndGlyphs">2000.0-2009.0 APC=–4.06*</text>
<line x1="1696.9" y1="155.7" x2="1727.1" y2="155.7" stroke="#b172c0" stroke-width="1.5"/>
<text x="1730" y="161.6" textLength="225.33" lengthAdjust="spacingAndGlyphs">2009.0-2021.0 APC=–2.51*</text>
<path d="M1711.9 176.83L1715.07 182.53L1708.73 182.53Z" fill="#1a9c5e"/>
<text x="1729" y="185.8" textLength="284.55" lengthAdjust="spacingAndGlyphs">Prevalence/Female–2 Joinpoints</text>
<line x1="1696.9" y1="202.1" x2="1727.1" y2="202.1" stroke="#1f9e62" stroke-width="1.5"/>
<text x="1730" y="207.6" textLength="225.33" lengthAdjust="spacingAndGlyphs">1992.0-2000.0 APC=–1.42*</text>
<line x1="1696.9" y1="225.9" x2="1727.1" y2="225.9" stroke="#1f9e62" stroke-width="1.5"/>
<text x="1730" y="231.8" textLength="225.33" lengthAdjust="spacingAndGlyphs">2000.0-2009.0 APC=–4.42*</text>
<line x1="1696.9" y1="248.5" x2="1727.1" y2="248.5" stroke="#1f9e62" stroke-width="1.5"/>
<text x="1730" y="254.7" textLength="225.33" lengthAdjust="spacingAndGlyphs">2009.0-2021.0 APC=–2.70*</text>
<path d="M1711.9 269.72L1713.03 271.67L1714.98 272.8L1713.03 273.93L1711.9 275.88L1710.77 273.93L1708.82 272.8L1710.77 271.67Z" fill="#e4662b"/>
<text x="1729" y="278.6" textLength="258.5" lengthAdjust="spacingAndGlyphs">Prevalence/Male-2 Joinpoints</text>
<line x1="1696.9" y1="296.1" x2="1727.1" y2="296.1" stroke="#e4662b" stroke-width="1.5"/>
<text x="1730" y="302.5" textLength="225.33" lengthAdjust="spacingAndGlyphs">1992.0-1999.0 APC=–1.39*</text>
<line x1="1696.9" y1="319.2" x2="1727.1" y2="319.2" stroke="#e4662b" stroke-width="1.5"/>
<text x="1730" y="324.6" textLength="225.33" lengthAdjust="spacingAndGlyphs">1999.0-2009.0 APC=–3.66*</text>
<line x1="1696.9" y1="342.5" x2="1727.1" y2="342.5" stroke="#e4662b" stroke-width="1.5"/>
<text x="1730" y="348.4" textLength="225.33" lengthAdjust="spacingAndGlyphs">2009.0-2021.0 APC=–2.40*</text>
</g>
<g id="chart3">
<line x1="368.4" y1="900" x2="368.4" y2="1292" stroke="#f8f8f8" stroke-width="1.2"/>
<line x1="420.5" y1="900" x2="420.5" y2="1292" stroke="#f8f8f8" stroke-width="1.2"/>
<line x1="472.6" y1="900" x2="472.6" y2="1292" stroke="#f8f8f8" stroke-width="1.2"/>
<line x1="524.7" y1="900" x2="524.7" y2="1292" stroke="#f8f8f8" stroke-width="1.2"/>
<line x1="576.9" y1="900" x2="576.9" y2="1292" stroke="#f8f8f8" stroke-width="1.2"/>
<line x1="629" y1="900" x2="629" y2="1292" stroke="#f8f8f8" stroke-width="1.2"/>
<line x1="330" y1="975.1" x2="643" y2="975.1" stroke="#f8f8f8" stroke-width="1.2"/>
<line x1="330" y1="1081.8" x2="643" y2="1081.8" stroke="#f8f8f8" stroke-width="1.2"/>
<line x1="330" y1="1188.5" x2="643" y2="1188.5" stroke="#f8f8f8" stroke-width="1.2"/>
<polyline points="124.71,904.46 142.12,914.98 159.53,925.29 176.94,935.52 194.35,945.97 211.76,956.45 229.17,966.86 246.58,977.11 263.99,987.11 281.4,988.09 298.81,989.07 316.22,989.55 333.63,990.22 351.04,1006.25 368.45,1020.81 385.86,1034.73 403.27,1048.04 420.68,1060.76 438.09,1072.93 455.5,1084.56 472.91,1095.68 490.32,1106.31 507.73,1116.48 525.14,1126.2 542.55,1130.62 559.96,1134.95 577.37,1139.19 594.78,1143.35 612.19,1147.41 629.6,1151.39" fill="none" stroke="#cdbf63" stroke-width="1.3" stroke-linejoin="round"/>
<path d="M124.71 903.81L127.96 907.06L124.71 910.31L121.46 907.06Z" fill="#c9ba5c"/><path d="M142.12 911.53L145.37 914.78L142.12 918.03L138.87 914.78Z" fill="#c9ba5c"/><path d="M159.53 921.14L162.78 924.39L159.53 927.64L156.28 924.39Z" fill="#c9ba5c"/><path d="M176.94 927.17L180.19 930.42L176.94 933.67L173.69 930.42Z" fill="#c9ba5c"/><path d="M194.35 942.72L197.6 945.97L194.35 949.22L191.1 945.97Z" fill="#c9ba5c"/><path d="M211.76 956.9L215.01 960.15L211.76 963.4L208.51 960.15Z" fill="#c9ba5c"/><path d="M229.17 966.41L232.42 969.66L229.17 972.91L225.92 969.66Z" fill="#c9ba5c"/><path d="M246.58 975.86L249.83 979.11L246.58 982.36L243.33 979.11Z" fill="#c9ba5c"/><path d="M263.99 978.36L267.24 981.61L263.99 984.86L260.74 981.61Z" fill="#c9ba5c"/><path d="M281.4 983.84L284.65 987.09L281.4 990.34L278.15 987.09Z" fill="#c9ba5c"/><path d="M298.81 988.42L302.06 991.67L298.81 994.92L295.56 991.67Z" fill="#c9ba5c"/><path d="M316.22 987.2L319.47 990.45L316.22 993.7L312.97 990.45Z" fill="#c9ba5c"/><path d="M333.63 987.17L336.88 990.42L333.63 993.67L330.38 990.42Z" fill="#c9ba5c"/><path d="M351.04 998.2L354.29 1001.45L351.04 1004.7L347.79 1001.45Z" fill="#c9ba5c"/><path d="M368.45 1020.16L371.7 1023.41L368.45 1026.66L365.2 1023.41Z" fill="#c9ba5c"/><path d="M385.86 1035.78L389.11 1039.03L385.86 1042.28L382.61 1039.03Z" fill="#c9ba5c"/><path d="M403.27 1043.79L406.52 1047.04L403.27 1050.29L400.02 1047.04Z" fill="#c9ba5c"/><path d="M420.68 1054.51L423.93 1057.76L420.68 1061.01L417.43 1057.76Z" fill="#c9ba5c"/><path d="M438.09 1066.48L441.34 1069.73L438.09 1072.98L434.84 1069.73Z" fill="#c9ba5c"/><path d="M455.5 1080.31L458.75 1083.56L455.5 1086.81L452.25 1083.56Z" fill="#c9ba5c"/><path d="M472.91 1092.43L476.16 1095.68L472.91 1098.93L469.66 1095.68Z" fill="#c9ba5c"/><path d="M490.32 1103.46L493.57 1106.71L490.32 1109.96L487.07 1106.71Z" fill="#c9ba5c"/><path d="M507.73 1114.93L510.98 1118.18L507.73 1121.43L504.48 1118.18Z" fill="#c9ba5c"/><path d="M525.14 1122.55L528.39 1125.8L525.14 1129.05L521.89 1125.8Z" fill="#c9ba5c"/><path d="M542.55 1126.77L545.8 1130.02L542.55 1133.27L539.3 1130.02Z" fill="#c9ba5c"/><path d="M559.96 1133.2L563.21 1136.45L559.96 1139.7L556.71 1136.45Z" fill="#c9ba5c"/><path d="M577.37 1138.14L580.62 1141.39L577.37 1144.64L574.12 1141.39Z" fill="#c9ba5c"/><path d="M594.78 1141.4L598.03 1144.65L594.78 1147.9L591.53 1144.65Z" fill="#c9ba5c"/><path d="M612.19 1143.56L615.44 1146.81L612.19 1150.06L608.94 1146.81Z" fill="#c9ba5c"/><path d="M629.6 1145.94L632.85 1149.19L629.6 1152.44L626.35 1149.19Z" fill="#c9ba5c"/>
<polyline points="124.71,1009.03 142.12,1019.42 159.53,1028.69 176.94,1037.93 194.35,1047.37 211.76,1057.01 229.17,1066.66 246.58,1075.23 263.99,1079.38 281.4,1083.46 298.81,1087.48 316.22,1091.44 333.63,1095.33 351.04,1107.48 368.45,1119.03 385.86,1129.99 403.27,1140.41 420.68,1150.3 438.09,1159.7 455.5,1168.62 472.91,1177.1 490.32,1185.16 507.73,1192.81 525.14,1200.08 542.55,1203.17 559.96,1206.18 577.37,1209.13 594.78,1212.02 612.19,1214.84 629.6,1217.59" fill="none" stroke="#e2429c" stroke-width="1.3" stroke-linejoin="round"/>
<path d="M122.21 1009.73L127.21 1014.73M122.21 1014.73L127.21 1009.73" stroke="#e0409a" stroke-width="1.8" fill="none"/><path d="M139.62 1017.52L144.62 1022.52M139.62 1022.52L144.62 1017.52" stroke="#e0409a" stroke-width="1.8" fill="none"/><path d="M157.03 1025.39L162.03 1030.39M157.03 1030.39L162.03 1025.39" stroke="#e0409a" stroke-width="1.8" fill="none"/><path d="M174.44 1031.73L179.44 1036.73M174.44 1036.73L179.44 1031.73" stroke="#e0409a" stroke-width="1.8" fill="none"/><path d="M191.85 1044.77L196.85 1049.77M191.85 1049.77L196.85 1044.77" stroke="#e0409a" stroke-width="1.8" fill="none"/><path d="M209.26 1056.51L214.26 1061.51M209.26 1061.51L214.26 1056.51" stroke="#e0409a" stroke-width="1.8" fill="none"/><path d="M226.67 1064.16L231.67 1069.16M226.67 1069.16L231.67 1064.16" stroke="#e0409a" stroke-width="1.8" fill="none"/><path d="M244.08 1071.93L249.08 1076.93M244.08 1076.93L249.08 1071.93" stroke="#e0409a" stroke-width="1.8" fill="none"/><path d="M261.49 1076.28L266.49 1081.28M261.49 1081.28L266.49 1076.28" stroke="#e0409a" stroke-width="1.8" fill="none"/><path d="M278.9 1082.16L283.9 1087.16M278.9 1087.16L283.9 1082.16" stroke="#e0409a" stroke-width="1.8" fill="none"/><path d="M296.31 1087.18L301.31 1092.18M296.31 1092.18L301.31 1087.18" stroke="#e0409a" stroke-width="1.8" fill="none"/><path d="M313.72 1089.54L318.72 1094.54M313.72 1094.54L318.72 1089.54" stroke="#e0409a" stroke-width="1.8" fill="none"/><path d="M331.13 1091.83L336.13 1096.83M331.13 1096.83L336.13 1091.83" stroke="#e0409a" stroke-width="1.8" fill="none"/><path d="M348.54 1101.18L353.54 1106.18M348.54 1106.18L353.54 1101.18" stroke="#e0409a" stroke-width="1.8" fill="none"/><path d="M365.95 1117.53L370.95 1122.53M365.95 1122.53L370.95 1117.53" stroke="#e0409a" stroke-width="1.8" fill="none"/><path d="M383.36 1130.49L388.36 1135.49M383.36 1135.49L388.36 1130.49" stroke="#e0409a" stroke-width="1.8" fill="none"/><path d="M400.77 1137.91L405.77 1142.91M400.77 1142.91L405.77 1137.91" stroke="#e0409a" stroke-width="1.8" fill="none"/><path d="M418.18 1146.8L423.18 1151.8M418.18 1151.8L423.18 1146.8" stroke="#e0409a" stroke-width="1.8" fill="none"/><path d="M435.59 1155.9L440.59 1160.9M435.59 1160.9L440.59 1155.9" stroke="#e0409a" stroke-width="1.8" fill="none"/><path d="M453 1165.22L458 1170.22M453 1170.22L458 1165.22" stroke="#e0409a" stroke-width="1.8" fill="none"/><path d="M470.41 1175.2L475.41 1180.2M470.41 1180.2L475.41 1175.2" stroke="#e0409a" stroke-width="1.8" fill="none"/><path d="M487.82 1183.26L492.82 1188.26M487.82 1188.26L492.82 1183.26" stroke="#e0409a" stroke-width="1.8" fill="none"/><path d="M505.23 1191.81L510.23 1196.81M505.23 1196.81L510.23 1191.81" stroke="#e0409a" stroke-width="1.8" fill="none"/><path d="M522.64 1196.98L527.64 1201.98M522.64 1201.98L527.64 1196.98" stroke="#e0409a" stroke-width="1.8" fill="none"/><path d="M540.05 1200.67L545.05 1205.67M540.05 1205.67L545.05 1200.67" stroke="#e0409a" stroke-width="1.8" fill="none"/><path d="M557.46 1204.98L562.46 1209.98M557.46 1209.98L562.46 1204.98" stroke="#e0409a" stroke-width="1.8" fill="none"/><path d="M574.87 1207.93L579.87 1212.93M574.87 1212.93L579.87 1207.93" stroke="#e0409a" stroke-width="1.8" fill="none"/><path d="M592.28 1210.82L597.28 1215.82M592.28 1215.82L597.28 1210.82" stroke="#e0409a" stroke-width="1.8" fill="none"/><path d="M609.69 1212.34L614.69 1217.34M609.69 1217.34L614.69 1212.34" stroke="#e0409a" stroke-width="1.8" fill="none"/><path d="M627.1 1214.09L632.1 1219.09M627.1 1219.09L632.1 1214.09" stroke="#e0409a" stroke-width="1.8" fill="none"/>
<polyline points="124.71,1114.88 142.12,1123.17 159.53,1130.16 176.94,1137.65 194.35,1145.05 211.76,1152.18 229.17,1159.05 246.58,1165.55 263.99,1170.93 281.4,1176.26 298.81,1181.44 316.22,1186.28 333.63,1190.79 351.04,1199.73 368.45,1209.26 385.86,1217.61 403.27,1225.41 420.68,1232.71 438.09,1239.54 455.5,1245.92 472.91,1251.89 490.32,1257.47 507.73,1262.69 525.14,1267.57 542.55,1269.48 559.96,1271.34 577.37,1273.15 594.78,1274.91 612.19,1276.62 629.6,1278.29" fill="none" stroke="#93509f" stroke-width="1.3" stroke-linejoin="round"/>
<path d="M124.71 1111.78L125.8 1113.98L128.23 1114.33L126.47 1116.05L126.88 1118.47L124.71 1117.33L122.54 1118.47L122.95 1116.05L121.19 1114.33L123.62 1113.98Z" fill="#8b479b"/><path d="M142.12 1119.47L143.21 1121.68L145.64 1122.03L143.88 1123.74L144.29 1126.17L142.12 1125.02L139.95 1126.17L140.36 1123.74L138.6 1122.03L141.03 1121.68Z" fill="#8b479b"/><path d="M159.53 1124.76L160.62 1126.96L163.05 1127.32L161.29 1129.03L161.7 1131.45L159.53 1130.31L157.36 1131.45L157.77 1129.03L156.01 1127.32L158.44 1126.96Z" fill="#8b479b"/><path d="M176.94 1131.75L178.03 1133.95L180.46 1134.31L178.7 1136.02L179.11 1138.44L176.94 1137.3L174.77 1138.44L175.18 1136.02L173.42 1134.31L175.85 1133.95Z" fill="#8b479b"/><path d="M194.35 1140.85L195.44 1143.06L197.87 1143.41L196.11 1145.13L196.52 1147.55L194.35 1146.4L192.18 1147.55L192.59 1145.13L190.83 1143.41L193.26 1143.06Z" fill="#8b479b"/><path d="M211.76 1150.08L212.85 1152.29L215.28 1152.64L213.52 1154.35L213.93 1156.78L211.76 1155.63L209.59 1156.78L210 1154.35L208.24 1152.64L210.67 1152.29Z" fill="#8b479b"/><path d="M229.17 1155.75L230.26 1157.95L232.69 1158.3L230.93 1160.02L231.34 1162.44L229.17 1161.3L227 1162.44L227.41 1160.02L225.65 1158.3L228.08 1157.95Z" fill="#8b479b"/><path d="M246.58 1161.85L247.67 1164.06L250.1 1164.41L248.34 1166.13L248.75 1168.55L246.58 1167.4L244.41 1168.55L244.82 1166.13L243.06 1164.41L245.49 1164.06Z" fill="#8b479b"/><path d="M263.99 1167.23L265.08 1169.44L267.51 1169.79L265.75 1171.5L266.16 1173.93L263.99 1172.78L261.82 1173.93L262.23 1171.5L260.47 1169.79L262.9 1169.44Z" fill="#8b479b"/><path d="M281.4 1172.56L282.49 1174.76L284.92 1175.12L283.16 1176.83L283.57 1179.26L281.4 1178.11L279.23 1179.26L279.64 1176.83L277.88 1175.12L280.31 1174.76Z" fill="#8b479b"/><path d="M298.81 1177.74L299.9 1179.95L302.33 1180.3L300.57 1182.02L300.98 1184.44L298.81 1183.29L296.64 1184.44L297.05 1182.02L295.29 1180.3L297.72 1179.95Z" fill="#8b479b"/><path d="M316.22 1182.58L317.31 1184.79L319.74 1185.14L317.98 1186.86L318.39 1189.28L316.22 1188.13L314.05 1189.28L314.46 1186.86L312.7 1185.14L315.13 1184.79Z" fill="#8b479b"/><path d="M333.63 1187.09L334.72 1189.29L337.15 1189.64L335.39 1191.36L335.8 1193.78L333.63 1192.64L331.46 1193.78L331.87 1191.36L330.11 1189.64L332.54 1189.29Z" fill="#8b479b"/><path d="M351.04 1194.03L352.13 1196.24L354.56 1196.59L352.8 1198.3L353.21 1200.73L351.04 1199.58L348.87 1200.73L349.28 1198.3L347.52 1196.59L349.95 1196.24Z" fill="#8b479b"/><path d="M368.45 1205.56L369.54 1207.76L371.97 1208.12L370.21 1209.83L370.62 1212.25L368.45 1211.11L366.28 1212.25L366.69 1209.83L364.93 1208.12L367.36 1207.76Z" fill="#8b479b"/><path d="M385.86 1215.41L386.95 1217.61L389.38 1217.96L387.62 1219.68L388.03 1222.1L385.86 1220.96L383.69 1222.1L384.1 1219.68L382.34 1217.96L384.77 1217.61Z" fill="#8b479b"/><path d="M403.27 1221.71L404.36 1223.92L406.79 1224.27L405.03 1225.98L405.44 1228.41L403.27 1227.26L401.1 1228.41L401.51 1225.98L399.75 1224.27L402.18 1223.92Z" fill="#8b479b"/><path d="M420.68 1228.11L421.77 1230.32L424.2 1230.67L422.44 1232.38L422.85 1234.81L420.68 1233.66L418.51 1234.81L418.92 1232.38L417.16 1230.67L419.59 1230.32Z" fill="#8b479b"/><path d="M438.09 1234.94L439.18 1237.14L441.61 1237.49L439.85 1239.21L440.26 1241.63L438.09 1240.49L435.92 1241.63L436.33 1239.21L434.57 1237.49L437 1237.14Z" fill="#8b479b"/><path d="M455.5 1241.62L456.59 1243.82L459.02 1244.18L457.26 1245.89L457.67 1248.31L455.5 1247.17L453.33 1248.31L453.74 1245.89L451.98 1244.18L454.41 1243.82Z" fill="#8b479b"/><path d="M472.91 1248.19L474 1250.39L476.43 1250.74L474.67 1252.46L475.08 1254.88L472.91 1253.74L470.74 1254.88L471.15 1252.46L469.39 1250.74L471.82 1250.39Z" fill="#8b479b"/><path d="M490.32 1254.17L491.41 1256.37L493.84 1256.73L492.08 1258.44L492.49 1260.86L490.32 1259.72L488.15 1260.86L488.56 1258.44L486.8 1256.73L489.23 1256.37Z" fill="#8b479b"/><path d="M507.73 1259.39L508.82 1261.59L511.25 1261.94L509.49 1263.66L509.9 1266.08L507.73 1264.94L505.56 1266.08L505.97 1263.66L504.21 1261.94L506.64 1261.59Z" fill="#8b479b"/><path d="M525.14 1263.47L526.23 1265.67L528.66 1266.02L526.9 1267.74L527.31 1270.16L525.14 1269.02L522.97 1270.16L523.38 1267.74L521.62 1266.02L524.05 1265.67Z" fill="#8b479b"/><path d="M542.55 1265.78L543.64 1267.98L546.07 1268.34L544.31 1270.05L544.72 1272.47L542.55 1271.33L540.38 1272.47L540.79 1270.05L539.03 1268.34L541.46 1267.98Z" fill="#8b479b"/><path d="M559.96 1267.64L561.05 1269.84L563.48 1270.2L561.72 1271.91L562.13 1274.33L559.96 1273.19L557.79 1274.33L558.2 1271.91L556.44 1270.2L558.87 1269.84Z" fill="#8b479b"/><path d="M577.37 1269.45L578.46 1271.65L580.89 1272.01L579.13 1273.72L579.54 1276.14L577.37 1275L575.2 1276.14L575.61 1273.72L573.85 1272.01L576.28 1271.65Z" fill="#8b479b"/><path d="M594.78 1271.21L595.87 1273.41L598.3 1273.77L596.54 1275.48L596.95 1277.9L594.78 1276.76L592.61 1277.9L593.02 1275.48L591.26 1273.77L593.69 1273.41Z" fill="#8b479b"/><path d="M612.19 1272.92L613.28 1275.13L615.71 1275.48L613.95 1277.2L614.36 1279.62L612.19 1278.47L610.02 1279.62L610.43 1277.2L608.67 1275.48L611.1 1275.13Z" fill="#8b479b"/><path d="M629.6 1273.99L630.69 1276.19L633.12 1276.55L631.36 1278.26L631.77 1280.68L629.6 1279.54L627.43 1280.68L627.84 1278.26L626.08 1276.55L628.51 1276.19Z" fill="#8b479b"/>
<rect x="107.5" y="761" width="537.6" height="533.5" fill="none" stroke="#222222" stroke-width="3.2"/>
<text x="50.11" y="768.35" textLength="46.69" lengthAdjust="spacingAndGlyphs">27.00</text>
<text x="50.11" y="875.03" textLength="46.69" lengthAdjust="spacingAndGlyphs">22.00</text>
<text x="50.11" y="981.71" textLength="46.69" lengthAdjust="spacingAndGlyphs">17.00</text>
<text x="50.11" y="1088.39" textLength="46.69" lengthAdjust="spacingAndGlyphs">12.00</text>
<text x="60.49" y="1195.07" textLength="36.31" lengthAdjust="spacingAndGlyphs">7.00</text>
<text x="60.49" y="1301.75" textLength="36.31" lengthAdjust="spacingAndGlyphs">2.00</text>
<text x="87.75" y="1321.1" textLength="41.5" lengthAdjust="spacingAndGlyphs">1991</text>
<text x="139.88" y="1321.1" textLength="41.5" lengthAdjust="spacingAndGlyphs">1994</text>
<text x="192.01" y="1321.1" textLength="41.5" lengthAdjust="spacingAndGlyphs">1997</text>
<text x="244.14" y="1321.8" textLength="41.5" lengthAdjust="spacingAndGlyphs">2000</text>
<text x="296.27" y="1321.1" textLength="41.5" lengthAdjust="spacingAndGlyphs">2003</text>
<text x="348.4" y="1321.1" textLength="41.5" lengthAdjust="spacingAndGlyphs">2006</text>
<text x="400.54" y="1321.1" textLength="41.5" lengthAdjust="spacingAndGlyphs">2009</text>
<text x="452.67" y="1321.1" textLength="41.5" lengthAdjust="spacingAndGlyphs">2012</text>
<text x="504.8" y="1321.1" textLength="41.5" lengthAdjust="spacingAndGlyphs">2015</text>
<text x="556.93" y="1321.8" textLength="41.5" lengthAdjust="spacingAndGlyphs">2018</text>
<text x="609.06" y="1321.1" textLength="41.5" lengthAdjust="spacingAndGlyphs">2021</text>
<text x="263.26" y="743.9" textLength="226.48" lengthAdjust="spacingAndGlyphs">Multiple Joinpoint Models</text>
<text x="351.51" y="1347.9" font-size="18.7">年份</text>
<text y="1033.6" transform="rotate(-90 23.5 1027)"><tspan x="-69.55" font-size="18.7">标准化死亡率 </tspan><tspan x="46.77" textLength="44.77" lengthAdjust="spacingAndGlyphs">(1/10</tspan><tspan x="91.53" font-size="18.7">万</tspan><tspan x="110.22" textLength="6.33" lengthAdjust="spacingAndGlyphs">)</tspan></text>
<rect x="688.7" y="759" width="307.1" height="358.7" fill="#ffffff" stroke="#222222" stroke-width="3.2"/>
<path d="M713.9 772.1L718.3 776.5M713.9 776.5L718.3 772.1" stroke="#e0409a" stroke-width="1.8" fill="none"/>
<text x="736.4" y="780.4" textLength="223.19" lengthAdjust="spacingAndGlyphs">Deaths/Both-3 Joinpoints</text>
<line x1="701.1" y1="797.4" x2="731.1" y2="797.4" stroke="#e2429c" stroke-width="1.5"/>
<text x="737.7" y="803.7" textLength="225.33" lengthAdjust="spacingAndGlyphs">1992.0-1999.0 APC=–3.16*</text>
<line x1="701.1" y1="821" x2="731.1" y2="821" stroke="#e2429c" stroke-width="1.5"/>
<text x="737.7" y="827.9" textLength="225.33" lengthAdjust="spacingAndGlyphs">1999.0-2004.0 APC=–1.58*</text>
<line x1="701.1" y1="843.8" x2="731.1" y2="843.8" stroke="#e2429c" stroke-width="1.5"/>
<text x="737.7" y="850.7" textLength="225.33" lengthAdjust="spacingAndGlyphs">2004.0-2015.0 APC=–5.01*</text>
<line x1="701.1" y1="866.3" x2="731.1" y2="866.3" stroke="#e2429c" stroke-width="1.5"/>
<text x="737.7" y="873.1" textLength="225.33" lengthAdjust="spacingAndGlyphs">2015.0-2021.0 APC=–2.24*</text>
<path d="M716.1 887.24L717.06 889.18L719.2 889.49L717.65 891L718.01 893.13L716.1 892.13L714.19 893.13L714.55 891L713 889.49L715.14 889.18Z" fill="#8b479b"/>
<text x="736.4" y="896.5" textLength="245.64" lengthAdjust="spacingAndGlyphs">Deaths/Female-3 Joinpoints</text>
<line x1="701.1" y1="913.9" x2="731.1" y2="913.9" stroke="#93509f" stroke-width="1.5"/>
<text x="737.7" y="920.1" textLength="225.33" lengthAdjust="spacingAndGlyphs">1992.0-1999.0 APC=–3.72*</text>
<line x1="701.1" y1="936.9" x2="731.1" y2="936.9" stroke="#93509f" stroke-width="1.5"/>
<text x="737.7" y="941" textLength="225.33" lengthAdjust="spacingAndGlyphs">1999.0-2004.0 APC=–2.97*</text>
<line x1="701.1" y1="960" x2="731.1" y2="960" stroke="#93509f" stroke-width="1.5"/>
<text x="737.7" y="965.9" textLength="225.33" lengthAdjust="spacingAndGlyphs">2004.0-2015.0 APC=–6.49*</text>
<line x1="701.1" y1="983.9" x2="731.1" y2="983.9" stroke="#93509f" stroke-width="1.5"/>
<text x="737.7" y="990.5" textLength="225.33" lengthAdjust="spacingAndGlyphs">2015.0-2021.0 APC=–2.72*</text>
<path d="M716.1 1005.54L718.96 1008.4L716.1 1011.26L713.24 1008.4Z" fill="#c9ba5c"/>
<text x="736.4" y="1014.1" textLength="223.12" lengthAdjust="spacingAndGlyphs">Deaths/Male-3 Joinpoints</text>
<line x1="701.1" y1="1029.8" x2="731.1" y2="1029.8" stroke="#cdbf63" stroke-width="1.5"/>
<text x="737.7" y="1035.7" textLength="225.33" lengthAdjust="spacingAndGlyphs">1992.0-2000.0 APC=–2.61*</text>
<line x1="701.1" y1="1053.7" x2="731.1" y2="1053.7" stroke="#cdbf63" stroke-width="1.5"/>
<text x="737.7" y="1059.3" textLength="216.59" lengthAdjust="spacingAndGlyphs">2000.0-2004.0 APC=–0.28</text>
<line x1="701.1" y1="1077" x2="731.1" y2="1077" stroke="#cdbf63" stroke-width="1.5"/>
<text x="737.7" y="1084.2" textLength="225.33" lengthAdjust="spacingAndGlyphs">2004.0-2015.0 APC=–4.39*</text>
<line x1="701.1" y1="1100.1" x2="731.1" y2="1100.1" stroke="#cdbf63" stroke-width="1.5"/>
<text x="737.7" y="1105.5" textLength="225.33" lengthAdjust="spacingAndGlyphs">2015.0-2021.0 APC=–2.09*</text>
</g>
<g id="chart4">
<polyline points="1184.97,835.27 1202.14,849.95 1219.31,864.28 1236.48,878.37 1253.65,892.33 1270.82,906.47 1287.99,920.41 1305.16,933.96 1322.33,947.12 1339.5,951.89 1356.67,956.61 1373.84,961.27 1391.01,965.88 1408.18,983.54 1425.35,1000.42 1442.52,1016.54 1459.69,1031.95 1476.86,1046.67 1494.03,1060.73 1511.2,1074.16 1528.37,1087 1545.54,1099.26 1562.71,1110.98 1579.88,1122.17 1597.05,1126.61 1614.22,1130.96 1631.39,1135.22 1648.56,1139.4 1665.73,1143.49 1682.9,1147.5" fill="none" stroke="#32363c" stroke-width="1.9" stroke-linejoin="round"/>
<path d="M1184.97 837.17L1188.27 840.47L1184.97 843.77L1181.67 840.47Z" fill="#2d3136"/><path d="M1202.14 847.45L1205.44 850.75L1202.14 854.05L1198.84 850.75Z" fill="#2d3136"/><path d="M1219.31 861.18L1222.61 864.48L1219.31 867.78L1216.01 864.48Z" fill="#2d3136"/><path d="M1236.48 869.67L1239.78 872.97L1236.48 876.27L1233.18 872.97Z" fill="#2d3136"/><path d="M1253.65 889.23L1256.95 892.53L1253.65 895.83L1250.35 892.53Z" fill="#2d3136"/><path d="M1270.82 907.37L1274.12 910.67L1270.82 913.97L1267.52 910.67Z" fill="#2d3136"/><path d="M1287.99 921.31L1291.29 924.61L1287.99 927.91L1284.69 924.61Z" fill="#2d3136"/><path d="M1305.16 933.26L1308.46 936.56L1305.16 939.86L1301.86 936.56Z" fill="#2d3136"/><path d="M1322.33 939.32L1325.63 942.62L1322.33 945.92L1319.03 942.62Z" fill="#2d3136"/><path d="M1339.5 948.59L1342.8 951.89L1339.5 955.19L1336.2 951.89Z" fill="#2d3136"/><path d="M1356.67 955.31L1359.97 958.61L1356.67 961.91L1353.37 958.61Z" fill="#2d3136"/><path d="M1373.84 958.57L1377.14 961.87L1373.84 965.17L1370.54 961.87Z" fill="#2d3136"/><path d="M1391.01 962.58L1394.31 965.88L1391.01 969.18L1387.71 965.88Z" fill="#2d3136"/><path d="M1408.18 977.04L1411.48 980.34L1408.18 983.64L1404.88 980.34Z" fill="#2d3136"/><path d="M1425.35 999.52L1428.65 1002.82L1425.35 1006.12L1422.05 1002.82Z" fill="#2d3136"/><path d="M1442.52 1016.94L1445.82 1020.24L1442.52 1023.54L1439.22 1020.24Z" fill="#2d3136"/><path d="M1459.69 1026.95L1462.99 1030.25L1459.69 1033.55L1456.39 1030.25Z" fill="#2d3136"/><path d="M1476.86 1040.17L1480.16 1043.47L1476.86 1046.77L1473.56 1043.47Z" fill="#2d3136"/><path d="M1494.03 1054.83L1497.33 1058.13L1494.03 1061.43L1490.73 1058.13Z" fill="#2d3136"/><path d="M1511.2 1069.96L1514.5 1073.26L1511.2 1076.56L1507.9 1073.26Z" fill="#2d3136"/><path d="M1528.37 1084.1L1531.67 1087.4L1528.37 1090.7L1525.07 1087.4Z" fill="#2d3136"/><path d="M1545.54 1097.26L1548.84 1100.56L1545.54 1103.86L1542.24 1100.56Z" fill="#2d3136"/><path d="M1562.71 1109.18L1566.01 1112.48L1562.71 1115.78L1559.41 1112.48Z" fill="#2d3136"/><path d="M1579.88 1117.87L1583.18 1121.17L1579.88 1124.47L1576.58 1121.17Z" fill="#2d3136"/><path d="M1597.05 1122.21L1600.35 1125.51L1597.05 1128.81L1593.75 1125.51Z" fill="#2d3136"/><path d="M1614.22 1128.36L1617.52 1131.66L1614.22 1134.96L1610.92 1131.66Z" fill="#2d3136"/><path d="M1631.39 1133.72L1634.69 1137.02L1631.39 1140.32L1628.09 1137.02Z" fill="#2d3136"/><path d="M1648.56 1137.7L1651.86 1141L1648.56 1144.3L1645.26 1141Z" fill="#2d3136"/><path d="M1665.73 1140.59L1669.03 1143.89L1665.73 1147.19L1662.43 1143.89Z" fill="#2d3136"/><path d="M1682.9 1142.8L1686.2 1146.1L1682.9 1149.4L1679.6 1146.1Z" fill="#2d3136"/>
<polyline points="1184.97,977.86 1202.14,990.69 1219.31,1002.09 1236.48,1013.37 1253.65,1024.96 1270.82,1036.66 1287.99,1047.88 1305.16,1058.75 1322.33,1069.26 1339.5,1074.97 1356.67,1080.57 1373.84,1086.05 1391.01,1091.43 1408.18,1105.12 1425.35,1118.12 1442.52,1130.45 1459.69,1142.17 1476.86,1153.29 1494.03,1163.85 1511.2,1173.87 1528.37,1183.09 1545.54,1191.83 1562.71,1200.1 1579.88,1207.95 1597.05,1211.14 1614.22,1214.27 1631.39,1217.33 1648.56,1220.33 1665.73,1223.26 1682.9,1226.14" fill="none" stroke="#3a47a4" stroke-width="1.6" stroke-linejoin="round"/>
<circle cx="1184.97" cy="981.36" r="3.3" fill="#2c3a9a"/><circle cx="1202.14" cy="990.69" r="3.3" fill="#2c3a9a"/><circle cx="1219.31" cy="1001.39" r="3.3" fill="#2c3a9a"/><circle cx="1236.48" cy="1009.67" r="3.3" fill="#2c3a9a"/><circle cx="1253.65" cy="1025.16" r="3.3" fill="#2c3a9a"/><circle cx="1270.82" cy="1039.56" r="3.3" fill="#2c3a9a"/><circle cx="1287.99" cy="1049.68" r="3.3" fill="#2c3a9a"/><circle cx="1305.16" cy="1059.15" r="3.3" fill="#2c3a9a"/><circle cx="1322.33" cy="1066.56" r="3.3" fill="#2c3a9a"/><circle cx="1339.5" cy="1074.27" r="3.3" fill="#2c3a9a"/><circle cx="1356.67" cy="1080.97" r="3.3" fill="#2c3a9a"/><circle cx="1373.84" cy="1086.05" r="3.3" fill="#2c3a9a"/><circle cx="1391.01" cy="1090.63" r="3.3" fill="#2c3a9a"/><circle cx="1408.18" cy="1102.52" r="3.3" fill="#2c3a9a"/><circle cx="1425.35" cy="1119.02" r="3.3" fill="#2c3a9a"/><circle cx="1442.52" cy="1132.35" r="3.3" fill="#2c3a9a"/><circle cx="1459.69" cy="1140.67" r="3.3" fill="#2c3a9a"/><circle cx="1476.86" cy="1150.89" r="3.3" fill="#2c3a9a"/><circle cx="1494.03" cy="1161.65" r="3.3" fill="#2c3a9a"/><circle cx="1511.2" cy="1172.57" r="3.3" fill="#2c3a9a"/><circle cx="1528.37" cy="1182.99" r="3.3" fill="#2c3a9a"/><circle cx="1545.54" cy="1192.43" r="3.3" fill="#2c3a9a"/><circle cx="1562.71" cy="1201.4" r="3.3" fill="#2c3a9a"/><circle cx="1579.88" cy="1207.15" r="3.3" fill="#2c3a9a"/><circle cx="1597.05" cy="1211.04" r="3.3" fill="#2c3a9a"/><circle cx="1614.22" cy="1215.47" r="3.3" fill="#2c3a9a"/><circle cx="1631.39" cy="1218.53" r="3.3" fill="#2c3a9a"/><circle cx="1648.56" cy="1221.53" r="3.3" fill="#2c3a9a"/><circle cx="1665.73" cy="1223.56" r="3.3" fill="#2c3a9a"/><circle cx="1682.9" cy="1225.34" r="3.3" fill="#2c3a9a"/>
<polyline points="1184.97,1129.25 1202.14,1138.28 1219.31,1146.26 1236.48,1154.3 1253.65,1162.32 1270.82,1170.32 1287.99,1178.43 1305.16,1185.55 1322.33,1192.4 1339.5,1198.98 1356.67,1205.3 1373.84,1211.38 1391.01,1217.22 1408.18,1226.87 1425.35,1235.88 1442.52,1244.29 1459.69,1252.14 1476.86,1259.47 1494.03,1266.3 1511.2,1272.68 1528.37,1278.64 1545.54,1284.19 1562.71,1289.38 1579.88,1294.22 1597.05,1296.26 1614.22,1298.24 1631.39,1300.16 1648.56,1302.02 1665.73,1303.42 1682.9,1304.77" fill="none" stroke="#27ad62" stroke-width="1.4" stroke-linejoin="round"/>
<path d="M1184.97 1126.15L1188.67 1132.81L1181.27 1132.81Z" fill="#1fa85c"/><path d="M1202.14 1133.68L1205.84 1140.34L1198.44 1140.34Z" fill="#1fa85c"/><path d="M1219.31 1140.46L1223.01 1147.12L1215.61 1147.12Z" fill="#1fa85c"/><path d="M1236.48 1148.6L1240.18 1155.26L1232.78 1155.26Z" fill="#1fa85c"/><path d="M1253.65 1159.22L1257.35 1165.88L1249.95 1165.88Z" fill="#1fa85c"/><path d="M1270.82 1169.72L1274.52 1176.38L1267.12 1176.38Z" fill="#1fa85c"/><path d="M1287.99 1175.83L1291.69 1182.49L1284.29 1182.49Z" fill="#1fa85c"/><path d="M1305.16 1182.75L1308.86 1189.41L1301.46 1189.41Z" fill="#1fa85c"/><path d="M1322.33 1189.6L1326.03 1196.26L1318.63 1196.26Z" fill="#1fa85c"/><path d="M1339.5 1195.88L1343.2 1202.54L1335.8 1202.54Z" fill="#1fa85c"/><path d="M1356.67 1202.2L1360.37 1208.86L1352.97 1208.86Z" fill="#1fa85c"/><path d="M1373.84 1207.68L1377.54 1214.34L1370.14 1214.34Z" fill="#1fa85c"/><path d="M1391.01 1213.52L1394.71 1220.18L1387.31 1220.18Z" fill="#1fa85c"/><path d="M1408.18 1221.27L1411.88 1227.93L1404.48 1227.93Z" fill="#1fa85c"/><path d="M1425.35 1232.18L1429.05 1238.84L1421.65 1238.84Z" fill="#1fa85c"/><path d="M1442.52 1241.59L1446.22 1248.25L1438.82 1248.25Z" fill="#1fa85c"/><path d="M1459.69 1248.44L1463.39 1255.1L1455.99 1255.1Z" fill="#1fa85c"/><path d="M1476.86 1255.17L1480.56 1261.83L1473.16 1261.83Z" fill="#1fa85c"/><path d="M1494.03 1261.7L1497.73 1268.36L1490.33 1268.36Z" fill="#1fa85c"/><path d="M1511.2 1268.38L1514.9 1275.04L1507.5 1275.04Z" fill="#1fa85c"/><path d="M1528.37 1274.94L1532.07 1281.6L1524.67 1281.6Z" fill="#1fa85c"/><path d="M1545.54 1280.89L1549.24 1287.55L1541.84 1287.55Z" fill="#1fa85c"/><path d="M1562.71 1286.28L1566.41 1292.94L1559.01 1292.94Z" fill="#1fa85c"/><path d="M1579.88 1289.92L1583.58 1296.58L1576.18 1296.58Z" fill="#1fa85c"/><path d="M1597.05 1292.56L1600.75 1299.22L1593.35 1299.22Z" fill="#1fa85c"/><path d="M1614.22 1294.94L1617.92 1301.6L1610.52 1301.6Z" fill="#1fa85c"/><path d="M1631.39 1296.46L1635.09 1303.12L1627.69 1303.12Z" fill="#1fa85c"/><path d="M1648.56 1298.32L1652.26 1304.98L1644.86 1304.98Z" fill="#1fa85c"/><path d="M1665.73 1299.72L1669.43 1306.38L1662.03 1306.38Z" fill="#1fa85c"/><path d="M1682.9 1300.37L1686.6 1307.03L1679.2 1307.03Z" fill="#1fa85c"/>
<rect x="1165.4" y="761.5" width="533" height="549.4" fill="none" stroke="#222222" stroke-width="3.2"/>
<text x="1098.74" y="781.75" textLength="57.06" lengthAdjust="spacingAndGlyphs">720.00</text>
<text x="1098.74" y="830.72" textLength="57.06" lengthAdjust="spacingAndGlyphs">660.00</text>
<text x="1098.74" y="879.7" textLength="57.06" lengthAdjust="spacingAndGlyphs">600.00</text>
<text x="1098.74" y="928.67" textLength="57.06" lengthAdjust="spacingAndGlyphs">540.00</text>
<text x="1098.74" y="977.64" textLength="57.06" lengthAdjust="spacingAndGlyphs">480.00</text>
<text x="1098.74" y="1026.61" textLength="57.06" lengthAdjust="spacingAndGlyphs">420.00</text>
<text x="1098.74" y="1075.59" textLength="57.06" lengthAdjust="spacingAndGlyphs">360.00</text>
<text x="1098.74" y="1124.56" textLength="57.06" lengthAdjust="spacingAndGlyphs">300.00</text>
<text x="1098.74" y="1173.53" textLength="57.06" lengthAdjust="spacingAndGlyphs">240.00</text>
<text x="1098.74" y="1222.5" textLength="57.06" lengthAdjust="spacingAndGlyphs">180.00</text>
<text x="1098.74" y="1271.48" textLength="57.06" lengthAdjust="spacingAndGlyphs">120.00</text>
<text x="1109.11" y="1320.45" textLength="46.69" lengthAdjust="spacingAndGlyphs">60.00</text>
<text x="1146.95" y="1336.9" textLength="41.5" lengthAdjust="spacingAndGlyphs">1991</text>
<text x="1198.27" y="1336.9" textLength="41.5" lengthAdjust="spacingAndGlyphs">1994</text>
<text x="1249.59" y="1336.9" textLength="41.5" lengthAdjust="spacingAndGlyphs">1997</text>
<text x="1300.91" y="1336.9" textLength="41.5" lengthAdjust="spacingAndGlyphs">2000</text>
<text x="1352.23" y="1336.9" textLength="41.5" lengthAdjust="spacingAndGlyphs">2003</text>
<text x="1403.56" y="1336.9" textLength="41.5" lengthAdjust="spacingAndGlyphs">2006</text>
<text x="1454.88" y="1336.9" textLength="41.5" lengthAdjust="spacingAndGlyphs">2009</text>
<text x="1506.2" y="1336.9" textLength="41.5" lengthAdjust="spacingAndGlyphs">2012</text>
<text x="1557.52" y="1336.9" textLength="41.5" lengthAdjust="spacingAndGlyphs">2015</text>
<text x="1608.84" y="1336.9" textLength="41.5" lengthAdjust="spacingAndGlyphs">2018</text>
<text x="1660.16" y="1336.9" textLength="41.5" lengthAdjust="spacingAndGlyphs">2021</text>
<text x="1318.26" y="747" textLength="226.48" lengthAdjust="spacingAndGlyphs">Multiple Joinpoint Models</text>
<text x="1412.91" y="1362.8" font-size="18.7">年份</text>
<text y="1044.6" transform="rotate(-90 1077.5 1038)"><tspan x="981.89" font-size="18.7">标准化</tspan><tspan x="1037.95" textLength="42.5" lengthAdjust="spacingAndGlyphs">DALY</tspan><tspan x="1080.45" font-size="18.7">率 </tspan><tspan x="1103.33" textLength="44.77" lengthAdjust="spacingAndGlyphs">(1/10</tspan><tspan x="1148.09" font-size="18.7">万</tspan><tspan x="1166.78" textLength="6.33" lengthAdjust="spacingAndGlyphs">)</tspan></text>
<rect x="1730.5" y="759.2" width="300.6" height="338.9" fill="#ffffff" stroke="#222222" stroke-width="3.2"/>
<circle cx="1757.9" cy="774.5" r="2.9" fill="#2c3a9a"/>
<text x="1776.9" y="779.5" textLength="217.47" lengthAdjust="spacingAndGlyphs">DALYs/Both -3 Joinpoints</text>
<line x1="1742.9" y1="797.3" x2="1773" y2="797.3" stroke="#3a47a4" stroke-width="1.5"/>
<text x="1778.1" y="802.9" textLength="225.33" lengthAdjust="spacingAndGlyphs">1992.0-2000.0 APC=–3.34*</text>
<line x1="1742.9" y1="820.6" x2="1773" y2="820.6" stroke="#3a47a4" stroke-width="1.5"/>
<text x="1778.1" y="826.8" textLength="225.33" lengthAdjust="spacingAndGlyphs">2000.0-2004.0 APC=–1.95*</text>
<line x1="1742.9" y1="843.9" x2="1773" y2="843.9" stroke="#3a47a4" stroke-width="1.5"/>
<text x="1778.1" y="848.8" textLength="225.33" lengthAdjust="spacingAndGlyphs">2004.0-2015.0 APC=–5.06*</text>
<line x1="1742.9" y1="867.2" x2="1773" y2="867.2" stroke="#3a47a4" stroke-width="1.5"/>
<text x="1778.1" y="872" textLength="225.33" lengthAdjust="spacingAndGlyphs">2015.0-2021.0 APC=–2.09*</text>
<path d="M1757.9 887.74L1761.16 893.6L1754.64 893.6Z" fill="#1fa85c"/>
<text x="1776.9" y="895.8" textLength="239.7" lengthAdjust="spacingAndGlyphs">DALYs/Female -2 Joinpoints</text>
<line x1="1742.9" y1="914" x2="1773" y2="914" stroke="#27ad62" stroke-width="1.5"/>
<text x="1778.1" y="921.5" textLength="225.33" lengthAdjust="spacingAndGlyphs">1992.0-2004.0 APC=–3.88*</text>
<line x1="1742.9" y1="937" x2="1773" y2="937" stroke="#27ad62" stroke-width="1.5"/>
<text x="1778.1" y="942" textLength="225.33" lengthAdjust="spacingAndGlyphs">2004.0-2015.0 APC=–6.67*</text>
<line x1="1742.9" y1="960.3" x2="1773" y2="960.3" stroke="#27ad62" stroke-width="1.5"/>
<text x="1778.1" y="966.7" textLength="225.33" lengthAdjust="spacingAndGlyphs">2015.0-2021.0 APC=–3.01*</text>
<circle cx="1757.9" cy="984.1" r="1.7" fill="#56667e"/>
<text x="1776.9" y="990.2" textLength="213.22" lengthAdjust="spacingAndGlyphs">DALYs/Male-3 Joinpoints</text>
<line x1="1742.9" y1="1006.6" x2="1773" y2="1006.6" stroke="#aab2bb" stroke-width="1.0"/>
<text x="1778.1" y="1010.7" textLength="225.33" lengthAdjust="spacingAndGlyphs">1992.0-2000.0 APC=–2.94*</text>
<line x1="1742.9" y1="1030.2" x2="1773" y2="1030.2" stroke="#7b88a0" stroke-width="1.1"/>
<text x="1778.1" y="1034.5" textLength="225.33" lengthAdjust="spacingAndGlyphs">2000.0-2004.0 APC=–1.15*</text>
<line x1="1742.9" y1="1054" x2="1773" y2="1054" stroke="#9299a6" stroke-width="1.5"/>
<text x="1778.1" y="1059.4" textLength="225.33" lengthAdjust="spacingAndGlyphs">2004.0-2015.0 APC=–4.46*</text>
<line x1="1742.9" y1="1077.3" x2="1773" y2="1077.3" stroke="#b4bac2" stroke-width="1.0"/>
<text x="1778.1" y="1083.4" textLength="225.33" lengthAdjust="spacingAndGlyphs">2015.0-2021.0 APC=–1.92*</text>
</g>
</svg>
</body>
</html>
